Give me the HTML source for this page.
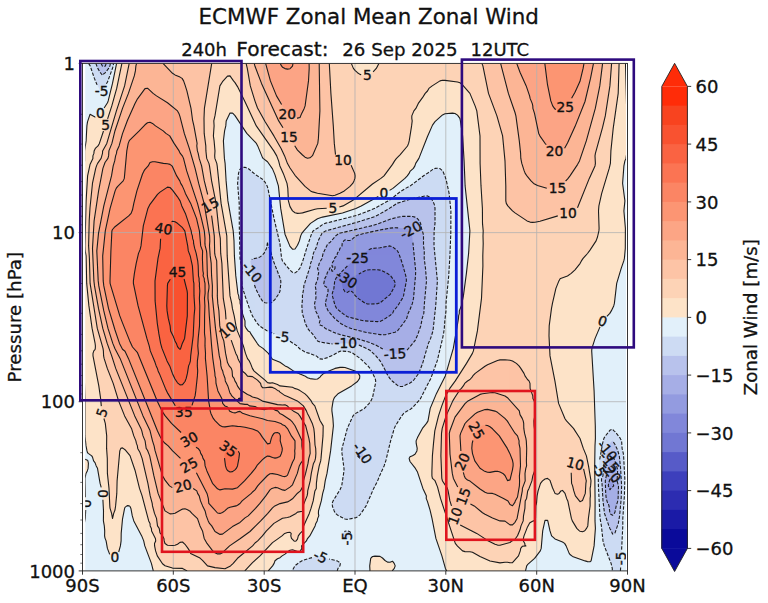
<!DOCTYPE html>
<html lang="en"><head><meta charset="utf-8"><title>ECMWF Zonal Mean Zonal Wind</title>
<style>html,body{margin:0;padding:0;background:#fff}svg{display:block}</style></head>
<body>
<svg width="768" height="603" viewBox="0 0 768 603" font-family="DejaVu Sans, Liberation Sans, sans-serif">
<rect width="768" height="603" fill="#fff"/>
<defs><clipPath id="ax"><rect x="82.5" y="63.4" width="545" height="507.5"/></clipPath></defs>
<g clip-path="url(#ax)">
<rect x="82.5" y="63.4" width="545" height="507.5" fill="#e2f0fa"/>
<path fill="#fde3c8" d="M116.6 63.4l508.9 0 1.2 47.5 0 42.5 -0.7 5 -1.1 2.5 -1 5 -1.3 17.5 2.3 17.5 -1 10 1.5 17.5 -0.1 20 -0.9 10 -0.6 2.5 -2.6 7.5 -4.5 15 -2.3 20 -0.7 2.5 -1.2 2.8 -2.5 4.4 -7.4 7.8 -1.2 2.5 -6.3 15 -3.2 10 -0.2 2.5 2.4 40 1.2 35 0.1 12.5 -0.4 7.5 -0.3 20 0.4 35 -0.1 20 0.4 7.5 -1.3 17.5 -3 15 -1.1 0.9 -2.5-0.2 -2.4-0.7 -12.6-4.5 -2.5-1.9 -0.8-1.1 -3.1-7.5 -1.5-2.5 -2.1-1.4 -7.5-3.1 -3.4-3 -1.6-5 -2.2-10 -0.3-0.5 -2.5 0 -2.3 10.5 -1.5 17.5 -0.9 2.5 -5.7 7.5 -7.1 6.3 -0.8 1.2 -1.2 5 -78.8 0 -1.3-2.5 -3.5-12.5 -6-17.5 -3.9-20 -2-8.5 -2.5-8.3 -1.3-3.2 0.2-2.5 -3.5-7.5 -1.5-5 -4.5-12.5 -1.9-3.1 -5.3-6.9 -0.6-2.5 0.9-1.6 2.5-1.1 2.5-1.5 1.9-3.3 0.3-2.5 -1-5 -0.1-2.5 1.4-3.3 4.9-9.2 4.1-5 1.5-2.5 2.2-12.5 5.2-12.5 8.7-17.5 2-5 7.2-25 5.2-30 0.1-2.5 0.7-2.5 0-2.5 2-5 1.7-7.5 3.4-25 2.2-20 1.3-22.5 -4.8-45 -1-25 -1.5-25 -2.2-15 -0.5-2.5 -2.4-3.3 -2.5-1.6 -2.5-0.4 -7.5 0.7 -2.5 1.1 -6.7 6 -2.3 2.5 -1.4 2.5 -4.6 10.6 -8.6 21.9 -3.2 5 -0.8 2.5 -1.5 2.5 -3.4 3 -0.9 2 -1.8 2.5 -5.2 5 -9.6 7.8 -35 19.1 -15 5.2 -20 4.1 -5 1.6 -7 4.7 -6.7 7.5 -2 2.5 -1.1 2.5 -1.3 5 -1.9 4.4 -2.5 3.7 -2.5 0.2 -2.5-2.8 -5-12.2 -4.3-25.8 -2.3-22.5 -0.9-3.5 -4-11.5 -1.3-2.5 -4.7-6.7 -4.4-3.3 -0.6-0.8 -4.8-11.7 -1.3-2.5 -9.6-10 -11.8-17.8 -2.5-2.5 -2.5 0 -0.2 0.3 -3.6 7.5 -0.4 5 -0.8 2.7 -1.1 7.3 -0.5 5 1 17.5 0.7 5 1 17.5 2.1 22.5 5.2 30 0.6 7.5 0.4 15 1.4 20 1.5 12.5 0.6 5 0.8 2.5 0.3 2.5 1 2.1 0.1 2.9 0.7 2.5 0.3 2.5 1.2 2.5 0.2 2.7 2.5 7.3 0 5.1 1.2 2.4 1.9 2.5 1.9 1.1 0.6 1.4 6.9 10.4 1.7 2.1 3.8 2.5 5.4 5 4.1 5.8 7.5 3.1 5.1 3.6 2.4 1.1 5.9 3.9 6.6 3.2 4.8 1.8 2.7 1.9 2.5 0.8 5 0.6 2.5-0.2 2.5-1.9 0.9-1.2 2.8-2.5 5.2-2.5 6.1-2.5 5-1 2.5-0.1 2.5 0.2 10.1 3.4 3.2 2.5 1.5 2.5 -0.2 2.5 -2.1 3.1 -5 3.8 -10 5.6 -5 3.2 -2.5 2.7 -1 1.6 -0.9 2.5 -1.2 7.5 0 2.5 1 7.5 0.5 7.5 -2.5 22.5 -3.9 25 -1.8 7.5 -1.1 7.5 -1.4 5 -1.4 7.5 -2.8 10 -0.1 2.5 0.4 2.5 -1.1 2.5 -0.5 2.5 -1.4 2.5 -0.7 2.5 -1.5 2.5 -0.9 2.5 -2.9 5 -2.3 2.7 -1.1 2.3 -4.8 5 0.3 2.5 -1.9 2.9 -2.5 0.3 -5-1.8 -2.5 0.4 -1.2 0.7 -3.8 3.2 -2.9 1.8 -2.1 1.8 -2.5 1.1 -2.5 2 -0.9 2.6 -1.5 2.5 -4.3 5 -115 0 -1.9-7.5 -6.6-17.5 -1.1-5 -2-5 -7.9-15 -1.5-5 -1.4-7.5 -0.9-2 -0.8-0.5 -1.7-0.3 -2.5 1.8 -0.4 1 -1.7 7.5 -1.7 17.5 -0.1 7.5 -0.7 5 -1.2 5 -1.7 3.4 -2.5 2.8 -2.5-0.1 -1.6-1.1 -0.9-1 -2.6-6.5 -1.3-7.5 -1.1-2.8 -0.4-2.2 0.1-5 -0.4-5 -0.9-5 0.1-10 -1.2-20 -1.7-5 -2.5-15 -0.6-2.6 -1.3-2.4 -1.2-3.3 -1.4-1.7 -1.1-3.8 -0.8-1.2 -3.5-2.5 -0.7-0.8 -1.1-4.2 -1.4-12.5 0-35 -0.8-27.5 -0.1-35 -0.7-37.5 -0.4-42.5 -0.5-5.5 0-35.2 1.2-49.3 1-10 -0.1-7.5 1.2-7.5 0.9-15 0.8-6.6 2.5-7.5 5 2.7 2.5-1.2 2.5-1.9 2.5-3.2 5-7.9 1.4-4.4 3.6-15zM82.5 460.9l0-1 2.5-0.7 2.5 1.1 0.4 0.6 0.5 2.5 -0.3 5 -0.8 2.5 -1.3 2.5 -1 5 0.8 27.5 -0.2 10 -0.6 5 -0.7 2.5 -0.1 7.5 -1.7 4zM627.5 503.4l0 23.8 -0.7-8.8zM370.7 558.4l1.8-1.9 2.5-0.4 5 0.3 2.5 1.6 2.5 2.5 2.5 1.6 2.5 0.2 2.5-1.1 1.7 2.2 0.8 1.7 0.2 0.8 -0.2 1 -0.7 1.5 -2.1 2.5 -22.2 0 -0.3-5z"/>
<path fill="#fdd3b6" d="M121.9 63.4l229.4 0 2.1 5 4.1 4.3 2.5 1.7 2.5 0.7 2.5 0.1 2.5-0.3 2.5-0.9 2.5-1.6 3.8-4 2.6-5 240.2 0 -0.9 30 -5 35 -2.3 22.5 -0.5 12.5 -1.2 5 -7.5 25 -2.8 12.5 -0.4 5 0.6 17.5 -0.2 2.5 -1.4 6.1 -1.4 3.9 -6.1 9.2 -2.5 3.4 -4.4 4.9 -1.7 2.5 -1.4 2.7 -5 6.2 -3.8 3.6 -3.7 2.6 -6.9 2.4 -0.6 0.5 -1.1 2 -3 7.5 -3.4 14.8 -1 5.2 -2.3 17.5 -0.2 10 1 20 4.9 25 3.7 22.5 6.4 15.3 1.5 2.2 7 7.5 6.5 10.1 3.3 9.9 3.1 7.5 2.1 10 2.5 15 -0.4 5 -0.5 2.5 0.3 7.5 -0.3 2.5 0 7.5 -1.7 12.5 -0.6 7.5 -0.3 0.9 -2.5 3.7 -2.5 1.3 -2.5-0.5 -0.6-0.4 -2.6-2.5 -4.5-7.5 -0.9-2.5 -3.6-17.5 -1.2-2.5 -1.6-5.1 -2.5-2.9 -1.6 0.5 -1.8 2.5 -1.6 0.8 -2.5-0.8 -2.5-5.7 -2.5-7.3 -2.5-2 -2.5 0.6 -2.5 1.9 -2 2.5 -2.4 7.5 -1 5 -0.6 7.5 -0.7 2.5 -0.3 12.5 -0.5 1.1 -1.3 1.4 -1.2 0.3 -2.5 1.5 -0.6 0.7 -1.9 3.5 -3.5 9 -0.6 2.5 0 2.5 1.4 2.5 0.2 1.7 0.9 0.8 -3.4 0.3 -1.8 2.2 -0.4 2.5 -1.8 5 -6 6.7 -2.5 0.2 -2.5-0.6 -2.5 0.1 -5 0.6 -10-1.9 -10-4.4 -7.5-4.3 -2.5-0.6 -5-0.1 -2.5-0.7 -5-4.8 -2.2-2.7 -14.8-45 -3-11.5 -2.5-6.2 -2.6-2.3 -0.5-2.5 0-5 0.5-15 1.1-12.5 1.3-12.5 3.7-15 3.3-10 3.8-10 4.2-7.5 5.5-7.5 11.2-17.5 5.9-10 1-2.5 0.7-2.5 3.3-17.5 4.1-32.5 1.4-32.5 -0.1-10 0.4-12.5 -0.2-7.5 0.2-5 -0.7-7.5 -0.1-15 -1.4-22.5 -0.9-22.5 -0.1-27.5 -3.2-25 -1.7-5 -5.1-12.3 -2.5-3.3 -5-5.5 -2.5-2 -2.5-0.8 -15-1.7 -2.5 0.6 -7.8 5 -3.3 2.5 -1.4 2.6 -2.3 2.4 -2.7 4.3 -4.2 5.7 -2.4 5 -2 2.5 -2.1 5 0 2.5 0.4 2.5 -0.6 5 -2.4 15 -0.6 2.5 -1 2.5 -12.6 14.4 -2.5 4.1 -8.5 11.5 -3.1 2.5 -8.4 5.6 -17.5 14.7 -3.1 2.2 -9.4 5.2 -5 1.1 -15 1.4 -5 0.1 -2.5 0.5 -12.5 3.7 -5 0.5 -2.5-0.6 -2.5-1.9 -2.5-4.3 -1.6-5.7 -0.6-12.5 -0.8-5 -3.7-10 -3.4-7.5 -1.3-5 -1.9-5 -2.9-5 -17.5-25 -11.3-24.2 -7.5-15.1 -2.5-4 -1.5-1.7 -3.5-5 -2.5 0.2 -5 5.6 -2.6 4.2 -4.9 29.8 -1.2 5.2 0.3 5 -0.7 10 1.2 10 0.4 5 -0.3 5 0.2 2.5 1.9 5 0.4 2.5 3.9 37.5 5.7 32.5 0.4 20 2.8 40 1.7 7.5 0.7 5 1.8 7.5 1.8 10 1.3 5 4.2 10 1.9 5 2.1 7.5 2 5.2 1.8 2.3 1.2 2.5 1.9 5 1.5 2.5 11.1 9.3 2.5 2.4 2.5 0.5 2.5-0.3 5 1.8 2.5 1.3 12.5 1.3 2 1.2 3 0.9 2.5 1.3 5 3.3 2.1 2 4.1 5 1.3 2.5 2.3 2.5 5.2 14.6 3.2 5.4 0 7.5 -2.2 25 -0.3 2.5 -1.5 5 -1.9 10 -0.9 7.5 -0.1 5 -1.4 2.5 -1.7 10 -3.9 12.5 -5.7 12.5 -0.9 5 -2.6 2.5 -1.8 2.5 -0.8 3.3 -1.4 1.7 -1.1 0.4 -1-0.4 -2.5-2.5 -0.7-2.5 0.4-2.5 -1.2-1 -2.5 0.1 -2.8 0.9 -2.7 2.5 -9.5 6.7 -12.5 13.3 -7.5 6.8 -7.7 8.2 -57.7 0 -4.6-2.5 -7.5 0 -5-1 -5-1.7 -2.5-2 -5-7.5 -1.2-2.8 -1.7-7.5 -0.1-2.5 1.2-2.5 -0.3-2.5 -3.8-7.5 -0.2-2.5 -1.2-2.5 -0.2-2.5 -1.3-2.5 -6.6-25 -2.6-7.5 -4.5-18.2 -5-14.6 -5-5.9 -2.5-1.8 -1.7 0.5 -1 2.5 -2.7 30 -0.3 12.5 -1.2 12.5 -0.6 4.1 -1.3 3.4 -1.2 5.1 -0.9-5.1 -1.6-5.3 -0.2-2.2 -0.8-17.5 -1.5-13.8 -0.2-16.2 -0.7-10 0.1-12.5 -1.1-10 -0.9-5 -2.6-7.5 -0.5-2.5 -1-12.5 -1.8-12.5 -5.8-30 0-2.5 0.8-2.5 1.2-1.2 0.3-1.3 0.1-2.5 -0.4-3.1 -2.9-14.4 -2.6-17.5 -2.6-25 -0.8-30 -1.1-7.5 0.4-25 0.7-22.5 1.4-24 1.6-8.5 1.4-5 2.4-5 0-2.5 1-2.5 0.2-2.5 1.2-2.5 2.7-2.5 2-4 11.8-36 6.2-22.5z"/>
<path fill="#fdc4a6" d="M129.2 63.4l82.5 0 -7.3 45 -0.4 10 0.2 15 1.6 12.5 0.1 5 0.8 7.5 2.2 5 0.6 2.5 2.1 15 4.5 22.5 2.9 27.5 1.3 7.5 0.4 15 1.2 10 1.4 35 2.1 12.5 1 12.5 1.4 7.5 8 22.5 1.4 2.5 0.7 2.5 1.2 2.5 1.4 2.5 0.2 2.5 1.8 5.3 2.5 2 2.5 2.9 5 0.5 5 3.5 3.1 3.3 0.6 2.5 1.3 1.7 2.5 0.1 5-0.6 2.5 0.3 2.3 1 2.7 2 1.5 0.5 1 1.2 5 3.5 2.5 0.8 9.8 4.5 6.1 5 1.6 2.5 1.4 2.5 1 2.5 1.4 2.5 3.5 7.5 1.5 5 0.8 7.5 0.5 10 0.6 2.5 0.2 5 -0.4 5 -0.7 2.5 -1.3 2.5 -0.6 2.5 -1.6 7.5 -1.1 7.5 -2.5 10 -0.1 2.5 -0.5 2.5 -4.1 10 -0.5 5.3 -5 0.9 -1.5 1.3 -6 3.3 -2.5 0.8 -5 0.8 -8.6 5.1 -7.5 7.5 -4 5 -4.7 5 -2.7 2.1 -2.4 2.9 -15.1 12.4 -4.3 5.1 -2.7 2.5 -5.5 2.8 -10-1.1 -7.5-1.7 -5-5.6 -2.5-2.2 -9.4-4.7 -1-2.5 -1.6-2.5 -3-4.1 -2.5-2.3 -2.5 0.4 -2.5 1.8 -2.5 1.1 -2.5 0.2 -5-0.3 -2.5-1.7 -0.8-2.6 -0.3-2.5 -1.3-2.5 -2.3-2.5 -1.1-5 -1.7-2.5 -1-7.5 -2-5 -2-7.5 -0.3-2.5 -2-7.5 -2.3-12.5 -5.8-25 -2.1-5.8 -2.3-4.2 -0.3-2.5 -1-2.5 -0.5-2.5 -2.1-5 -2.3-7.5 -6.9-12.5 -6-15 -5.4-17.5 -6.8-17.5 -2.8-10 -0.2-5 -0.4-2.5 -5.7-20 -7.2-45 -0.8-27.5 -0.7-7.5 0.7-32.5 2.9-30 0.7-5 3.6-15 1.1-2.5 3.5-5 1.4-5 0.1-2.5 4.2-7.5 9.6-32.5 8.2-25zM246.1 63.4l83.2 0 1.6 30 2.4 32.5 1 17.5 1.3 12.5 1.1 2.5 0.8 0.8 2.5 0.8 5 0.1 2.5 0.2 0.9 0.6 1.6 2 2.5 5 2.2 5.5 0.4 2.5 -0.2 2.5 -2.2 5 -2.7 3 -5 4 -2.5 1.6 -7.5 3.2 -2.5 0.5 -15-2.5 -5-1.3 -2.5-1.3 -5-4.2 -10-11.1 -2.5-3.3 -5-8.4 -2.9-7.7 -3.5-7.5 -7.2-12.5 -8.9-14.4 -7.5-13.5 -2.5-6.9 -4.7-15.2 -3-17.5zM481.9 63.4l129.7 0 -1.7 22.5 -4.6 30 -2.8 11.8 -7.1 25.7 -0.4 2.5 0.4 7.5 -0.4 2.5 -5.7 12.5 -10.9 27.5 -0.9 1.9 -2.5 1.9 -7.5 3.1 -22.5 7.2 -7.5 1.8 -5 0.6 -2.5-0.3 -2.5-0.9 -11.8-7.8 -3.2-2.5 -5-5.4 -1.2-2.1 -0.5-2.5 0-15 -0.8-25 -2.4-25 -5.7-20 -8.4-22.5 -5.6-27.5zM496.5 360.9l3.5-1 2.5-0.2 7.5 0.5 2.5 0.8 2.5 1.4 4 3.5 3.5 5 1.5 2.5 1 2.5 2.5 3.6 1.5 1.4 1 2.4 0.1 5.1 2.7 7.5 0.1 2.5 1.3 2.5 0.7 2.5 -0.1 12.5 -0.9 5 0.2 5 0.7 5 0.2 7.5 -0.5 20 0.9 5 0.1 2.5 -0.9 5 -1.8 5 -0.9 5 -2.9 7.5 -1.3 2.5 -1.1 7.5 -1.4 2.5 -0.3 7.5 -1.4 7.5 -0.3 5 -2.2 5 -1 3.9 -2.5 6 -2.5 3.5 -3.1 1.6 -1.9 1.6 -10 2.7 -2.5-0.1 -2.5-0.9 -7.5-3.8 -10.8-7 -16.7-8.5 -2.5-2.3 -7.5-21.4 -1.9-10.3 -0.7-2.5 -4.9-7.4 -0.7-2.6 -0.9-22.5 0.6-22.5 0.7-5 3.9-12.5 6.7-15 7.2-11.3 2.5-2.5 2.2-3.7 2.8-2.4 2.5-1.5 2.5-2.8 0.3-0.8 2.4-2.5 9.8-7.2 2.5-1.5zM577.2 463.4l2.8 1.1 2.5 2.1 1 1.8 2.8 12.5 -1.3 13.7 -2.5 5.9 -2.5 1.2 -4.6-5.8 -1.6-5 -1.2-5 -1-2.5 -0.3-2.5 -0.2-5 0.4-7.5 1-2.7 2.5-2.1z"/>
<path fill="#fcb595" d="M136.6 63.4l26.4 0 9.5 9.9 2.5 1.6 5 2.2 2.1 1.3 1.5 2.5 2.6 7.5 4.8 20 1.5 11.4 1.4 6.1 3.2 17.5 -0.3 2.5 0.6 5 0.8 2.5 1 5 2.4 7.5 2.7 15 5.1 20 1 5 3.9 30 0.4 17.5 0.5 2.5 1.5 5 0.7 30 -0.1 5 0.5 7.5 1.1 7.5 0.9 15 2.1 10 1.9 5 1.8 12.5 1.9 9.2 1.7 3.3 2.1 2.5 0.8 2.5 0.4 5.4 1.6 2.1 0.8 2.5 1.6 2.5 0.9 2.5 2.6 3.7 1.3 1.3 1.2 0.4 5 3.2 2.5 1 2.5 1.5 5 1.3 5 2.8 15 3.5 5 0.4 2.5-0.2 2.5 1.2 2.1 2.4 3.6 2.5 4.6 2.5 2 2.5 5.9 10 3.2 12.5 0.9 5 0.4 10 -1.4 5 -0.8 5 -2.4 10 -2.9 10 0.1 2.5 -0.3 1 -2.1 4 -2.9 2.3 -5 5.6 -2.5 1.7 -2.5 1.4 -7.5 1.7 -5.2 2.3 -2.3 1.9 -4.7 5.6 -7.1 7.5 -10.7 10.6 -10 7.3 -10.4 7.1 -7.1 6.8 -2.5 1.2 -2.5 0 -2.5-1.1 -2.5-2.2 -5.5-7.2 -2.8-5 -1.7-7.5 -2.5-5 -2.5-7.3 -5.6-5.2 -2.2-2.5 -2.2-1.2 -2.5-1 -2.5 0.4 -7.5 4.2 -2.5 0.5 -2.5 0.1 -5-3 -6.9-17.5 -4.2-17.5 -4.2-20 -2.2-5.6 -1.3-1.9 -1.1-7.5 -2.1-5 -1.2-5 -0.9-2.5 -6.2-12.5 -19-47.5 -4-12.5 -4.5-12.5 -3.7-12.5 -1.2-5 -3.8-17.5 -4-22.5 -0.6-5 -1.3-30 0.1-5 1.7-27.5 5.1-32.5 4.1-20 1.4-3.4 2.9-4.1 0.7-2.5 0.3-5 3-7.5 3.1-12.7 7.5-22.3 5.9-15 5.9-17.5 1.1-5 0.5-5zM254.2 63.4l65 0 0.7 47.5 -1.7 30 -0.7 3.5 -5 11.3 -2.5 2.1 -2.5 0.5 -2.5-1.1 -7.5-7.1 -8.9-14.2 -8.5-12.5 -19.7-42.5 -5.4-14.6zM500.6 63.4l102 0 -2.8 22.5 -4.8 24 -7.9 28.5 -6.6 20 -3 6.2 -9.4 13.8 -8.1 8 -2.5 1.7 -2.5 0.4 -7.5-0.1 -10-2.9 -2.5-1.2 -2.5-1.8 -2.5-2.7 -5-6.8 -3.2-9.6 -1-5 -0.2-5 -1.3-12.5 -3.4-25 -0.9-3.4 -6.6-19.1zM484.9 393.4l7.6-0.8 2.5 0.2 10 3.2 2.5 1.7 11.8 13.2 0.7 3.7 2.5 4.4 1.2 4.4 0.1 5 0.8 5 1.3 5 0.7 7.5 -0.2 15 0.2 5 -0.8 2.5 -0.8 5.1 0.2 7.4 -2.8 7.5 -0.1 2.5 -5.2 27.5 -2.1 3.9 -2.5 2.6 -2.5 0 -5-3.8 -5-0.2 -7.5-3 -5-2.4 -5-2.8 -8.3-6.8 -6.7-3.7 -2.5-2.9 -6.6-10.9 -5-10 -0.7-2.5 -2.6-20 -0.9-20 0.1-2.5 0.6-2.5 4.5-12.5 1.3-2.5 9.3-12.2 2.5-2.5 12.5-6.8z"/>
<path fill="#fca585" d="M265.6 63.4l43.5 0 0.1 5 -0.7 12.5 -3.4 25 -0.9 2.5 -2.5 5 -1.7 4.1 -2.5 0.6 -7.5-2.7 -2.5-1.6 -2.5-3.7 -7.5-12.2 -2.5-5.5 -5-12.7zM516.7 63.4l76.8 0 -3 15 -4.7 20 -1.5 5 -9.3 23.2 -7.5 16.5 -2.5 4.8 -2.5 1.6 -5 1.5 -2.5 0.4 -2.5-0.9 -7.5-7.2 -5.1-7.4 -1.2-2.5 -4.2-20 -1.6-5 -0.1-2.5 -0.6-2.5 -2.1-5 -0.5-2.5 -3.4-10 -6.2-13.6zM146 88.4l1.5-0.2 5.6 5.2 3.4 2.5 11 6.9 10 8.1 1.4 2.5 1.1 3.3 4.3 16.7 5 15 5.8 20 3.6 15 5.4 20 5.5 32.5 0.2 5 -0.3 5 0.7 10 1 7.5 0.4 12.5 0.8 10 -0.1 10 3.2 32.5 3.8 27.5 1.2 5 0.4 5 0.6 2.5 1.2 2.5 0.5 2.5 1.8 4.8 0.3 2.7 2.5 5 2.2 7.3 0.5 0.2 1.3 2.5 8.2 7.7 5 0.8 2.5-0.1 1.9 1.6 5.6 0.6 3.6 1.9 3.9 1 2.5 0.2 5-1.7 2.5 0.4 2.5 1.8 2.7 0.8 2.1 2.5 2.7 1.4 7.5 4.9 2.5 2.5 2.5 3.6 1.3 2.6 4.7 10 0.9 2.5 0 5 0.7 5 0 10 -2 2.5 -1.3 2.5 -2 7.5 -4.8 11.4 -2.5 2.3 -5 3.3 -2.5-0.5 -5-2.2 -2.5-0.3 -3.1 1 -1.9 1.5 -4.2 6 -5.9 7.5 -4.4 5 -7.3 7.5 -3.2 2 -5 4.5 -7.5 4.2 -10 7.5 -2.5 0.3 -5-2.9 -3.3-5.6 -2.2-2.5 -1.3-2.5 -1.9-5 -1.2-5 -2.5-5 -2.1-5 -1.3-5 -1.6-2.5 -0.8-2.5 -4.3-2.8 -7.5-2 -2.5-0.1 -7.5 1.6 -2.5 0.1 -3-1.8 -4.5-5.8 -2.4-4.2 -7.6-25.5 -0.9-4.5 -1.6-5.1 -2.5-10.2 -7-14.7 -22.9-57.5 -5.1-9.7 -2.5-6.2 -5-16.2 -4.2-17.9 -4.5-22.5 -0.6-5 -1.4-30 1.7-17.5 5.3-27.5 7.7-30 1.7-10 1.5-5 0.9-5 0.9-2.5 0.3-2.5 2.3-5 3.4-12.3 5-13.4 2.5-5.8 5-10.9 2.5-4.7 7.5-10.2zM238.5 398.4l1.5-0.5 0.8 0.5 -0.8 0.8zM480.9 410.9l4.1-1.3 2.5-0.2 7.5 1.7 2.5 1.2 7.4 6.1 2.3 2.5 7.8 12.3 2.5 2.7 1 2.5 0.6 2.5 -0.1 2.5 1 5 0.3 7.5 0.2 10 -1.1 10 0.2 5 -0.2 5 -1.9 11.1 -2.2 3.9 -0.3 1.2 -2.5 3.6 -2.5-1.1 -2-3.7 -0.5-0.4 -10-5.1 -2.5-1.2 -2.5-0.8 -5-0.2 -2.5-0.9 -7.5-5.1 -7.5-6.1 -2.5-1.1 -2-1.6 -1.2-2.5 -1.2-5 -2.2-20 -0.9-15 0.6-2.5 4.5-10 9.9-9.5 2.5-1.7z"/>
<path fill="#fc9573" d="M280.3 63.4l12.7 0 -0.5 2.7 -2.2 2.3 -0.3 0.3 -2.5 0.4 -2.5-0.5 -2.5-1.4 -1-1.3zM544.8 63.4l39.2 0 -0.3 2.5 -3.6 15 -5.1 11.4 -2.5 4.7 -7.5 10.2 -2.5 2.3 -2.5 1 -2.5 0 -2.5-1.4 -2.5-3.5 -1.7-4.7 -3.3-16.2zM146.7 123.4l0.8-0.6 2.5-0.5 2.5 1.1 3 2.5 7.7 5 2.7 2.5 3.8 2.5 4.4 7.5 5 7.5 1.2 2.5 2.2 2.7 1.8 4.8 2.4 10 11.5 35 6.1 25 0.7 7.5 -0.1 5 0.3 2.5 1.3 5 0.9 25 1.6 10 -0.1 2.5 -0.8 5 -0.1 5 0.6 5 0.7 12.5 2.3 30 1.2 12.5 2.1 15 0.1 2.5 0.8 2.5 0.2 5 1.5 6 2.8 6.5 1.5 2.5 0.9 5 2.3 2.7 2.5 1 1.1 1.3 0.8 2.5 3.1 1.6 2.5 0.4 2.5-1 2.5-0.5 2.5 1.8 7.5 2.6 12.5 3 5 1.7 7.5 1 5.9 1.9 1.6 1.4 2.5 1 2.5 2.8 3.9 7.3 3.6 5 0 7.5 -0.3 2.5 0.2 2.5 -0.4 5 -2 3.8 -5 12.9 -0.9 0.8 -1.6 0.7 -2.5-0.4 -5-1.7 -5-0.9 -2.5 0.1 -2.5 1.8 -7.6 7.9 -2.2 2.5 -2.7 4 -2.5 2.1 -1.2 1.4 -9.2 7.5 -2.1 2.6 -2.5 1.8 -1.4 0.6 -6.1 1.4 -2.5 1 -2.7 2.6 -2.3 1.6 -2.5 0.9 -2.5-0.4 -8.7-9.6 -0.5-5 -1.3-5 -6.5-12.5 -3-6.4 -2.3-3.6 -7.7-7.1 -5-3.4 -5-4.6 -7.3-7.4 -2-2.5 -3.2-2.6 -2.3-2.4 -2.7-4.7 -2.5-5.2 -30.1-75.1 -2.4-4.6 -2.5-2 -0.6-0.9 -2.4-5 -4.5-13.4 -6.5-21.6 -4.7-22.5 -0.6-5 -0.5-22.5 0.1-5 2.5-22.5 4.8-22.5 4.9-17.1 1.2-2.9 1.3-1.8 5.7-5.7 1.1-2.5 2.5-27.5 1.4-7.5 1-2.5 0.8-1.1zM481.6 425.9l0.9-0.4 2.5-0.4 2.5 0.4 2.5 1.3 2.5 2 7.5 8 8.7 14.1 3.8 9.4 0.6 3.1 0 2.5 -0.6 3.7 -2.5 10.3 -2.5 0.7 -2.5-5.1 -2.1-2.1 -2.9-1.3 -2.5-0.8 -2.5 0.1 -5 1 -2.5-0.2 -3.5-1.3 -4-2.7 -5.2-7.3 -1-2.5 -1.9-7.5 -0.1-2.5 0.4-5 1.4-5 2.8-7.5 1.8-2.5z"/>
<path fill="#fb8564" d="M149.4 163.4l0.6-0.8 2.5-0.9 2.5 0.1 8.4 1.6 4.1 0.4 2.5 0.6 1.9 1.5 0.6 0.8 4.2 9.2 3.1 5 0.9 2.5 1.6 2.5 2.2 5 0.9 2.5 4.6 8.5 6.5 16.5 2.9 12.5 1.3 15 1.9 5 -0.2 7.5 0.5 12.5 0.5 2.5 -0.3 2.5 1.1 2.5 0.2 2.5 0.6 2.5 0.1 10 -0.6 5 0.4 7.5 -0.3 10 -0.1 17.5 0.6 5 -0.1 7.5 0.5 7.5 -0.1 5 1.7 17.5 1.5 25 1.4 7.5 0.2 2.5 1.7 5 1.4 2.5 1.7 2.3 5 4.9 2.5 1.1 2.5 0.2 7.5-1.2 5 0.7 2.5 0.1 5 0.7 7.5 1.8 5 1.9 2.4 2.5 2.6 4 5 6.5 2.5-0.5 1.3-5 1-2.5 1.6-2.5 1.1-0.6 2.5-0.3 1.9 0.9 1 2.5 -0.2 5 2.1 7.5 -0.2 2.5 -0.7 2.5 -1.4 3.1 -2.5 1.1 -2.5 0.5 -2.5-0.6 -2.5-1.1 -2.5-0.3 -2.5 1.4 -6.3 5.9 -2 2.5 -1.4 2.5 -10.8 12.5 -7 6.8 -1.8 0.7 -3.2 0.7 -7.5-0.3 -5 1.1 -2.5-1.1 -4.9-5.4 -2.6-5.4 -3.1-7.1 -1.8-5 -0.5-5 -1.6-2.5 -0.7-2.5 -1.6-2.5 -0.7-2.5 -1.9-2.5 -4.1-2.5 -3.1-2.5 -2.1-5 -8.8-6.8 -7.5-7.1 -3.3-3.6 -5.8-7.5 -7.4-15 -18.5-45.7 -5-5.7 -2.8-6.1 -9.7-24.4 -9.2-30.6 -0.7-2.5 -0.1-2.5 0.9-30 1-20 0.6-1.4 2.5-2.8 13.7-10.8 2.4-2.5 1.4-3.6 3.7-16.4 6.3-19.4 1.5-3.1 1-1.5 3.2-3.5z"/>
<path fill="#fb7453" d="M165.3 188.4l2.2-1.3 2.5 0.4 2.5 2.6 5 6.7 2.5 3.9 1.8 5.2 3.6 7.5 4.3 12.5 0.5 2.5 1 2.5 0.3 2.5 0.9 2.5 0.2 2.5 0.9 2.5 0.1 2.5 1.1 5 1.5 5 1.3 6.5 0.7 6 0.3 10 0.6 2.5 0 2.5 0.4 2.5 -0.1 2.5 0.4 5 -0.4 7.5 0.4 7.5 -0.3 20 -1.3 12.5 -0.4 7.5 0.6 7.5 -1 7.5 -0.1 5 0.4 5 -0.3 5 -2.3 20 -2.6 8.5 -0.7 1.5 -1.8 2.1 -5 3.9 -2.5-0.3 -5-3.4 -2.5-2.7 -7.2-12.1 -2.4-5 -6.1-15 -1.2-2.5 -0.7-2.5 -1.2-2.5 -1.2-3.6 -5-12.3 -0.8-4.1 -2.3-7.5 -8.8-32.5 -4.7-22.5 0-2.5 1-7.5 1.8-10 2.3-10 1.5-3.5 1-4 2.3-20 4.6-17.5 2.1-4.1 7.5-9.9 2.5-2.3zM229.3 448.4l1.5 0 4.2 2 2.5 0.2 0.5 0.3 1.5 2.5 -0.6 5 -1.4 7.5 -1.2 2.5 -1.3 1.5 -2.5 1.7 -2.5 0.4 -2.5-1.4 -1.2-2.2 -1.3-5 -0.6-7.5 0.3-2.5 1.3-2.5 1.5-1.7z"/>
<path fill="#fa6342" d="M169.3 223.4l0.7-0.9 2.5-1.2 2.5 0.5 2.5 1.5 5 4.4 2.3 3.2 2.9 15 0.6 5 1.9 5 2.2 10 1 15 0.5 2.5 0.1 12.5 0.8 12.5 -0.7 7.5 -0.9 20 -2.5 20 -0.3 5 -0.7 2.5 -1.1 2.5 -1.2 7.5 -1.2 5 -0.9 2.5 -2.8 3.7 -2.5 0.3 -2.5-2.1 -2.5-3.8 -2.6-5.6 -2.7-7.5 -2.7-5 -5.8-15 -3.6-20 -2.5-25 -0.2-17.5 0.3-5 3.2-22.5 1.7-7.5 0.8-12.5 1.3-5 1.3-2.5 1.5-1.6z"/>
<path fill="#f95230" d="M174.7 273.4l2.8-1.9 2.5 0.7 2.5 2.8 2.5 6.8 2.1 9.1 0.3 2.5 -0.1 22.5 -2.3 20.8 -0.4 1.7 -2.3 5 -1.6 5 -0.7 0.9 -1.1-0.9 -1.4-1.8 -1.1-3.2 -1.4-2.5 -1.9-5 -2.5-5 -0.5-5 -1.8-7.5 -1.5-10 0.6-22.5 0.3-2.5 2.3-3.9z"/>
<path fill="#cddbf3" d="M88.6 63.4l24.9 0 -0.3 2.5 -0.7 2.4 -5 13.7 -2.5 4.7 -1.5 1.7 -1 2.4 -2.5 0.5 -0.9-2.9 -1.6-2.8 -2.5-5.6 -4.8-14.1zM240.9 168.4l1.6-1 2.5-0.1 3.1 1.1 6.9 5.9 7.5 5 2.5 2.8 2.1 3.8 0.8 2.5 6.1 30 5.9 25 1.7 15 0.9 2.6 7.5 9.1 2.5 2.2 2.5 0.6 2.5-1.7 2.5-3.2 2.5-6.1 4.1-13.5 5.9-16.5 0.7-1 1.8-1.4 2.5-1.3 5-3.6 2.5-1.2 2.5-0.7 30-7.5 17.5-6.9 15-8.5 10-7.9 5-3.2 5.3-2.8 14.7-11.2 2.5-1.4 5-3.7 2.5-1.2 2.5-0.2 2.5 0.4 2.5 2.1 3.3 7.7 3.3 15 1.6 15 0.2 20 -0.8 25 -1.6 25 -2.5 25 0 7.5 -1.2 10 -0.8 10 -0.9 5 -5.2 22.5 -7.1 20 -10.1 20 -0.7 1.1 -7.5 8.1 -2.5 2 -2.7 1.3 -3.6 2.5 -2 2.5 -6.3 10 -1.1 2.5 -3.7 12.5 -4.8 20 -1.7 5 -4.1 9 -2.4 6 -3.9 7.5 -7.6 17.5 -6.1 8.9 -2.5 2.1 -2.5 1 -7.5 1.5 -2.5-0.4 -7.5-3.9 -2.5-2.3 -2.5-6.3 -0.4-3.1 1-2.5 6.9-11.2 1.7-3.8 2.3-15 0-2.5 -2-15 -0.2-2.5 0.2-2.5 5.3-20 5.7-12.5 2-2.1 9.4-5.4 4.8-5 1.7-2.5 1.6-3.2 3-14.3 0.2-2.5 -0.6-2.5 -3.6-7.5 -1.5-2.5 -2.1-2.5 -7.9-7.6 -7.5-5.3 -2.5-1 -2.5-0.5 -5-0.4 -2.5 0.1 -7.5 4.2 -7.5 3.1 -2.5 0.6 -3.9-0.7 -1.1-1.5 -1.2-1 -6.7-2.5 -4.6-1.2 -1.6-1.3 -3.4-1.9 -3-3.1 -3.6-2.5 -10.9-6.7 -12.5-4.4 -5-2.7 -5-3.3 -2.5-2.7 -5-7.6 -5-13.1 -5-15.1 -0.9-6.9 -0.2-5 0.7-5 0-2.5 -2.1-10 -0.7-32.5 -0.1-22.5 -1.6-20 0.9-10 0.7-2.5 0.8-1.6zM609.6 430.9l0.4-0.7 2.5-1 1.5 1.7 1 0.7 5.4 6.8 1.2 2.5 0.5 7.5 1.2 5 0.3 2.5 1.2 20 -0.3 10 0.1 5 -1.8 27.5 0 7.5 -1.2 22.5 -0.1 7.5 -1.1 15 -8.1 0 0-2.5 -1.2-5 -7.6-20 -2.1-17.5 -1.4-8 -1.7-37 0.7-7.5 0.4-12.5 3.2-17.5 1.3-5 1.5-2.5zM346.7 530.9l0.8-0.1 2.5 0.9 1.1 1.7 -0.3 2.5 -2.4 2.5 -0.9 0.4 -2.5-0.9 -1.7-2 -0.1-2.5 1.8-2.2zM309.2 558.4l8.3-2.1 2.5 0.1 12.5 3.6 5 1 2.5 1.6 0.4 0.8 -0.4 2 -2 3 -0.8 2.5 -45.1 0 2.8-5 2.6-2.3 5-3.1z"/>
<path fill="#b8c2ec" d="M95.8 63.4l14.6 0 -0.5 2.5 -1.3 2.5 -3.6 4.6 -0.8 0.4 -1.7 1.9 -2.5-3.1 -2.2-3.8zM413.3 198.4l11.7-2.4 2.5-0.1 2.5 1.4 2.5 3.1 2.2 5.5 0.3 2.5 0 15 -0.9 7.5 -0.1 15 3.4 35 -1.5 22.5 -2.9 27.5 -2.4 7.5 -2.2 5 -5.9 20.3 -2.5 6.5 -0.5 0.7 -0.8 2.5 -3.7 5.2 -2.5 2.9 -2.5 1.5 -7.5 3.5 -2.5 0 -2.5-1.1 -5-4.1 -2.5-2.6 -2.5-3.8 -4.5-9 -2.9-5 -4.2-5 -5.9-5.6 -9-4.4 -3.5-1.4 -2.5-0.4 -10-0.8 -12.5 0.7 -12.5-1.9 -2.5-1.2 -5-7 -2.9-3 -1.9-2.5 -2.4-5 -1.3-5 -1.7-5 -0.4-7.5 0.6-7.5 -0.1-2.5 1.3-7.5 0.1-2.5 6.2-19.1 0.6-3.4 1.8-5 1-5 1-2.5 1.5-2.5 2.3-7.5 3.7-7.5 0.6-0.6 3.2-1.9 29.3-8.1 20-6.2 12.5-7 10-6.5zM267.4 243.4l0.1-0.9 0.5 3.4 2 3.1 3.4 11.9 6.8 17.5 0.6 2.5 0 2.5 -0.7 7.5 -1 2.5 -4.1 6 -1.3 1.5 -1.2 1.1 -2.5 1.1 -2.5 0 -2.5-0.4 -2.5-1.6 -2.5-3.9 -4.4-8.8 -1.6-5 -3.6-22.5 2.1-2 5-0.9 2.5-1.1 2.5-1.9 1.5-1.6 2.5-5zM611.9 440.9l0.6-0.3 2.5 3.9 2.9 6.4 1.4 5 2 22.5 0.3 10 -1.4 22.5 -1.3 10 -1.4 5.4 -1.1 2.1 -1.4 4.5 -2.5 1.2 -1.1-3.2 -1.4-2.2 -1.1-2.8 -4.4-12.5 -1.5-12.5 -1-17.5 -0.5-2.5 0.1-2.5 1.3-2.5 1.1-12.5 1-5 1.3-5 3.7-10.1zM356.8 453.4l0.7-0.8 2.5-0.6 2.5 1.3 1.4 2.6 -1.4 1.3 -2.5 1.1 -2.5-0.8 -0.9-1.6z"/>
<path fill="#a6aee6" d="M101.1 63.4l5.1 0 -0.8 2.5 -0.4 0.4 -2.5 0zM393.5 218.4l6.5-1.8 12.5-0.1 2.5 0.6 2.2 1.3 2.3 2.5 1.1 2.5 0.9 5 1.6 5 0.4 2.5 0 10 0.8 5 -0.1 7.5 2.3 20 -0.2 5 -1.9 20 -0.6 10 -1.6 5 -1.4 7.5 -3.3 9.3 -2.6 5.7 -8.7 10 -1.2 0.9 -5 2.2 -2.5 0.2 -5-1.4 -7.5-2.9 -10-5.2 -5-2 -12.5-3.9 -20-4.9 -12.2-5.5 -2.8-2.5 -2.5-0.8 -0.8-1.7 0.8-2.7 -2.5-6.3 -1.9-3.5 -0.9-5 -0.1-2.5 1.3-5 0.1-2.5 -0.4-2.5 0.6-2.5 -1-5 1.7-5 0.6-0.9 0.3-1.6 0-2.5 0.8-2.5 -0.1-2.5 -1-2.7 1.1-2.3 0.6-2.5 2.8-5 1.1-5 4.4-9.1 0.9-0.9 1.6-0.9 5.7-6.6 1.8-1.7 2.5-1.2 12.5-2.6 18.5-4.5 4-1.1 12.5-4.6zM612.2 455.9l0.3-0.6 0.3 0.6 2.2 5.2 2.3 7.3 0.3 2.5 -0.5 10 1.4 5 -0.3 2.5 0.1 7.5 -0.8 6 -1.3 4 -1.2 6 -0.7 1.5 -1.8 1.9 -2.6-1.9 -0.1-2.5 -0.8-5 -0.8-2.5 -0.7-0.8 -1.3-4.2 -0.5-5 -0.4-12.5 1.1-5 0.1-5 3.5-10.2z"/>
<path fill="#939be0" d="M388.4 228.4l6.6-0.7 12.5 0.7 2.5 0.5 1.7 2 3.8 37.5 0.2 5 -1.9 22.5 -0.7 5 -1.7 5 -3.3 7.5 -1.4 5 -3.4 5 -6 7.5 -2.3 1.3 -10 2.6 -5-0.2 -12.5-1.9 -17.5-4.4 -5-2.4 -4.4-2.5 -5.6-4.6 -6.9-7.9 -0.6-1.2 -1.6-3.8 -0.6-2.5 2.4-10 0.4-2.5 -0.2-2.5 -0.4-0.6 -3-1.9 -0.7-2.5 1.2-5.3 1.4-2.2 1.1-3.7 1.3-1.3 1.2-3.1 1.4 0.6 0.4 2.5 0.7 0.4 2.5-2.8 0-1.9 -2.5 0.7 -0.5-1.4 0.5-3.6 1.2-1.4 1.3-3.4 1.9-1.6 0.6-3.1 1.8-1.9 0.6-2.5 2.1-2.5 0.5-3.1 1.2-1.9 1.3-1.1 2.5 0.6 2.5 0.1 2.5-1.6 3.4-3 1.6-0.7 17.5-4.2zM610.6 470.9l1.9-0.9 0.5 0.9 -0.5 3.4 -0.9-0.9zM609.3 480.9l0.7-1.9 2.5 0.6 1.2 6.3 -2.7 2.5 -1 1.4 -1.7-3.9 0.3-2.5z"/>
<path fill="#8187da" d="M389.9 245.9l2.6 0.9 5 4.1 1.3 2.5 4.3 12.5 3.2 12.5 0.1 2.5 -0.3 2.5 -2.6 12.5 -1.1 2.5 -4.9 7.8 -3.9 4.7 -1.1 2.6 -5 3.7 -5 3.1 -2.5 1.1 -2.5 0.2 -15-1 -12.5-3 -2.5-0.8 -2.5-1.5 -8.4-6.9 -1.6-3.1 -2.5-8.9 -0.2-3 1.6-5 0.8-7.5 1.2-2.5 6.6-7.5 7.5-7.5 7.5-5.9 10-6.9 2.5-1.5 2.5-0.7 7.5-0.6z"/>
<path fill="#7177d3" d="M364.6 270.9l2.9-0.9 2.5-0.2 7.5 0 2.5 0.3 2.5 0.9 4.8 2.4 2.7 1.8 4.4 5.7 0.9 2.5 -0.5 2.5 -3.9 7.5 -2.2 2.5 -3.7 2.6 -5 4.4 -2.5 0.7 -7.5 0.5 -2.5-0.1 -2.1-0.6 -7.3-5 -2.6-2.5 -3-3.9 -2.5-1.4 -2.5 1.8 -2.5-0.6 -2.5-4.2 -0.7-4.2 0.7-2.7 2.5-1.2 7.5-2.7 5-2.2z"/>
<g stroke="#b0b0b0" stroke-width="0.85" opacity="0.9">
<line x1="173.3" y1="63.4" x2="173.3" y2="570.9"/>
<line x1="264.2" y1="63.4" x2="264.2" y2="570.9"/>
<line x1="355.0" y1="63.4" x2="355.0" y2="570.9"/>
<line x1="445.8" y1="63.4" x2="445.8" y2="570.9"/>
<line x1="536.7" y1="63.4" x2="536.7" y2="570.9"/>
<line x1="82.5" y1="232.6" x2="627.5" y2="232.6"/>
<line x1="82.5" y1="401.7" x2="627.5" y2="401.7"/>
</g>
<g fill="none" stroke="#1c1c1c" stroke-width="1.1" stroke-linejoin="round">
<path stroke-dasharray="3.4 1.6" d="M343.3 289l1.7 2.8 2.5 0.6 2.5-1.8 2.5 1.4 3 3.9 2.6 2.5 6.9 4.8 2.5 0.8 7.5-0.1 2.5-0.3 2.5-0.7 10-8.3 0.9-1.2 3.9-7.5 0.5-2.5 -0.9-2.5 -3.7-5 -3.2-2.4 -5-2.5 -2.5-0.9 -2.5-0.3 -7.5 0 -2.5 0.2 -2.5 0.7 -6.2 3.2"/>
<path stroke-dasharray="3.4 1.6" d="M347.4 266l-4.9 4.9 -6.6 7.5 -1.2 2.5 -0.8 7.5 -1.6 5 0.1 2.5 2.6 9.4 1.6 3.1 5.9 5 5 3.4 12.5 3.2 4.6 0.9 12.9 0.7 2.5-0.2 2.5-1.1 7.5-4.8 2.6-2.1 1-2.5 3.9-4.7 4.9-7.8 1.1-2.5 2.9-15 -0.1-2.5 -0.5-2.5 -3.3-11.9 -3.7-10.6 -1.3-2.5 -5-4.1 -2.6-0.9 -9.9 1.9 -7.5 0.6 -2.5 0.7 -1.6 1"/>
<path stroke-dasharray="3.4 1.6" d="M398.1 227.9l-3.1-0.2 -5 0.4 -15 2.9 -10.7 2.4 -6.8 1.8 -1.6 0.7 -3.4 3 -2.5 1.6 -2.5-0.1 -2.5-0.6 -1.3 1.1 -1.5 2.5 -0.2 2.5 -2.1 2.5 -0.6 2.5 -1.8 1.9 -0.6 3.1 -1.9 1.6 -1.3 3.4 -1.2 1.4 -0.5 3.6 0.5 1.4 2.5-0.7 0 1.9 -2.5 2.8 -0.7-0.4 -0.4-2.5 -1.4-0.6 -1.2 3.1 -1.3 1.3 -1.1 3.7 -1.4 2.2 -1.2 5.3 0.7 2.5 3 1.9 0.4 0.6 0.2 2.5 -0.4 2.5 -2.4 10 0.6 2.5 2.2 5 6.5 7.5 6 5 6.9 3.8 5 1.8 15 3.7 12.5 1.9 5 0.2 10-2.6 2.5-1.4 5.8-7.4 3.4-5 1.4-5 1.9-3.9 2.4-6.1 1.1-5 2-22.5 0.2-5 -2.8-28.3M610 479l-1.4 4.4 -0.3 2.5 1.7 3.9 1-1.4 2.7-2.5 -1.2-6.3 -2.5-0.6"/>
<path stroke-dasharray="3.4 1.6" d="M101.1 63.4l1.4 2.9 2.5 0 0.4-0.4 0.8-2.5M407.1 350.1l7.9-9.4 2.5-5.5 3.3-9.3 1.4-7.5 1.6-5 0.6-10 2.1-22.5 -1-12.5 -1.3-10 0.1-7.5 -0.8-5 0-10 -0.4-2.5 -1.6-5 -0.9-5 -1.1-2.5 -2.3-2.5 -2.2-1.3 -2.5-0.6 -2.5-0.2 -7.5 0.1 -5 0.8 -7.5 2.1 -12.5 4.7 -6.5 1.9 -32.1 7.5 -3.2 2.5 -5.7 6.6 -1.6 0.9 -0.9 0.9 -4.4 9.1 -1.1 5 -2.8 5 -0.6 2.5 -1.1 2.3 1 2.7 0.1 2.5 -0.8 2.5 0 2.5 -0.3 1.6 -0.6 0.9 -1.7 5 1 5 -0.6 2.5 0.4 2.5 -0.1 2.5 -1.3 5 0.1 2.5 0.9 5 1.9 3.5 2.5 6.3 -0.8 2.7 0.8 1.7 2.5 0.8 2.8 2.5 2.2 1.1 8.7 3.9 3.8 1.2 17.5 4.2 12.5 3.9 5 2 7.8 4.2M606.5 474.8l-1.2 6.1 0.4 12.5 0.5 5 1.3 4.2 0.7 0.8 0.8 2.5 1 7.8 2.5 1.6 1.8-1.9 0.7-1.5 1.2-6 1.3-4 0.6-3.5 0.4-12.5 -1.4-5 0.5-10 -0.3-2.5 -2.3-7.3 -2.5-5.8"/>
<path stroke-dasharray="3.4 1.6" d="M95.8 63.4l2 5 2.2 3.8 2.5 3.1 1.7-1.9 0.8-0.4 3.6-4.6 1.3-2.5 0.5-2.5M358.8 345l7.7 3.4 3.5 1.9 5.9 5.6 4.2 5 2.9 5 4.5 9 2.5 3.8 2.5 2.6 5 4.1 2.5 1.1 2.5 0 7.5-3.5 3.1-2.1 5.6-7.5 0.8-2.5 0.5-0.7 2.5-6.5 5.9-20.3 2.2-5 2.4-7.5 2.7-25 1.7-25 -3.4-35 0.1-15 0.9-7.5 0-15.3 -0.3-2.2 -0.8-2.5 -1.4-3 -2.5-3.1 -2.5-1.4 -2.5 0.1 -12.5 2.6 -15 4.5 -10 6.5 -12.5 7 -20 6.2 -29.3 8.1 -3.8 2.5 -3.7 7.5 -2.3 7.5 -1.5 2.5 -1 2.5 -1 5 -1.8 5 -0.6 3.4 -6.2 19.1 -0.1 2.5 -1.3 7.5 0.1 2.5 -0.6 7.5 0.4 7.5 1.7 5 1.3 5 2.4 5 1.9 2.5 2.9 3 5 7 2.5 1.2 12.6 1.9M267.5 242.5l-1 5.9 -2.5 5 -2.5 2.5 -1.5 1 -2.5 1.1 -5 0.9 -0.7 0.7M254.5 285l1.1 3.4 4.4 8.8 2.5 3.9 2.5 1.6 2.5 0.4 2.5 0 2.5-1.1 2.5-2.6 2.5-3.6 1.6-2.4 0.9-2.3 0.8-7.7 0-2.5 -0.6-2.5 -6.8-17.5 -3.4-11.9 -2-3.1 -0.5-3.4M604 463.5l-1.1 12.4 -1.3 2.5 -0.1 2.5 0.5 2.5 1 17.5 1.5 12.5 4.4 12.5 1.1 2.8 1.4 2.2 1.1 3.2 2.5-1.2 3.3-9.5 1.3-7.5 1.6-17.5 0.4-12.5 -1-17.5 -1.3-12.5 -1.8-6.1 -2.5-5.3 -1.7-2.6M359.9 458.3l-3.2-3.4"/>
<path stroke-dasharray="3.4 1.6" d="M88.6 63.4l1.6 2.5 4.2 12.5 2.7 6.5M106.4 83.8l1.1-1.8 5-13.7 0.7-2.4 0.3-2.5M337.2 570.9l0.8-2.5 1.9-2.5 0.5-2.5 -0.4-0.8 -2.8-1.7 -8.1-1.9M312 557.6l-9.5 2.9 -2.5 1.4 -5 3.8 -2.9 5.2M620.4 570.9l0.3-3.7M621.6 549.6l1.2-23.7 0-7.5 1.6-22.5 0.4-17.5 -1.2-22.5 -0.3-2.5 -1.2-5 -0.5-7.5 -1.6-3 -5-6.3 -1-0.7 -1.5-1.7 -2.5 1 -4.6 5.7 -1.5 2.5 -1.3 5 -3.2 17.8M598.3 478.7l0.1 7.2 1.6 32 1.4 8 1.6 15 1.3 5 6.8 17.5 1.2 5 0 2.5M290 341.3l7 4.6 3 3.1 3.4 1.9 1.6 1.3 4.6 1.2 6.7 2.5 1.2 1 1.1 1.5 1.4 0.5 2.5 0.2 5-1.5 5-2.2 7.5-4.2 2.5-0.1 5 0.4 2.5 0.5 2.5 1 7.5 5.3 7.9 7.6 2.1 2.5 1.5 2.5 3.6 7.5 0.6 2.5 -0.2 2.5 -3 14.3 -1.6 3.2 -1.7 2.5 -4.8 5 -9.4 5.4 -2 2.1 -5.7 12.5 -5.3 20 -0.2 2.5 0.2 2.5 2 15 0 2.5 -2.3 15 -1.7 3.8 -6.9 11.2 -1 2.5 0.4 3.1 1.7 4.4 1.3 2.5 2 1.7 7.5 3.9 2.5 0.4 7.5-1.5 2.5-1 2.5-2.1 6.1-8.9 7.6-17.5 3.9-7.5 2.4-6 4.1-9 1.7-5 4.8-20 3.7-12.5 1.1-2.5 6.3-10 2-2.5 3.6-2.5 2.7-1.3 2.5-2 7.5-8.1 10.8-21.1 6.4-17.5 5.4-22.5 1-5 0.7-5 0.5-7.5 1.2-10 0-7.5 2.7-27.5 1.2-20 0.9-22.5 0.1-22.5 -1.8-17.5 -2.7-12.5 -1.4-4.7 -2.3-5.3 -2.7-2.3 -2.5-0.4 -2.5 0.2 -2.5 1.2 -5 3.7 -2.5 1.4 -14.7 11.2 -5.3 2.8 -5 3.2 -10 7.9 -15 8.5 -17.5 6.9 -32.5 8.2 -2.5 1.2 -5 3.6 -2.5 1.3 -1.8 1.4 -1.5 2.5 -5.1 15 -4.1 13.5 -2.5 6.1 -2.5 3.2 -2.5 1.7 -2.5-0.6 -2.5-2.2 -7.5-9.1 -0.9-2.6 -1.7-15 -5.9-25 -6.1-30 -0.8-2.5 -2.1-3.8 -2.5-2.8 -7.5-5 -6.9-5.9 -3.1-1.1 -2.5 0.1 -1.6 1 -0.9 0.9 -0.8 1.6 -0.7 2.5 -0.9 10 1.6 20 0.1 22.5 0.7 32.5 2.1 10 0 2.5 -0.7 5 0 2.5 0.6 7.5 3 9.9 5 14.2 2.4 5.9 2.6 4 2.5 3.7 2.5 2.7 7.5 4.8 6.7 2.7M350.7 532.7l-0.7-1 -2.5-0.9 -2.5 0.4 -0.5 0.6"/>
<path d="M625.5 63.4l1.2 47.5 0 42.5 -0.7 5 -1.1 2.5 -1 5 -1.3 17.5 2.3 17.5 -1 10 1.5 17.5 -0.1 20 -0.9 10 -0.6 2.5 -2.6 7.5 -4.5 15 -2.3 20 -0.7 2.5 -2.4 5 -1.5 2.5 -2.9 3M600 326.9l-4.9 11.5 -3.2 10 -0.2 2.5 2.4 40 1.2 35 0.1 12.5 -0.4 7.5 -0.3 20 0.4 35 -0.1 20 0.4 7.5 -1.3 17.5 -3 15 -1.1 0.9 -2.5-0.2 -2.4-0.7 -12.6-4.5 -2.5-1.9 -0.8-1.1 -3.1-7.5 -1.5-2.5 -2.1-1.4 -7.5-3.1 -3.4-3 -1.6-5 -2.2-10 -0.3-0.5 -2.5 0 -2.3 10.5 -1.5 17.5 -0.9 2.5 -5.7 7.5 -7.1 6.3 -0.8 1.2 -1.2 5M82.5 217.7l1.3-51.8 0.8-5 0-10 1.5-10 0.8-15 0.6-4.1 2.5-7.5 5 2.7 0.3-0.2M104.1 108l3.4-5.2 0.7-1.9 4.3-17.5 4.1-20M82.5 459.9l2.5-0.7 2.5 1.1 0.4 0.6 0.5 2.5 -0.3 5 -0.8 2.5 -1.3 2.5 -1 5 0.4 18.9M85.7 510l-0.4 8.4 -1 5 -0.1 7.5 -1.7 4M627.5 527.2l-0.7-8.8 0.7-15.2M153.3 570.9l-1.9-7.5 -6.6-17.5 -1.1-5 -2-5 -7.9-15 -1.5-5 -1.4-7.5 -0.9-2 -0.8-0.5 -1.7-0.3 -0.6 0.3 -1.9 1.5 -0.4 1 -2.1 10.8 -1.3 14.2 -0.1 7.5 -0.7 5 -1.7 6.1M109.7 554.4l-2.3-6 -1.3-7.5 -1.1-2.8 -0.4-2.2 0.1-5 -0.4-5 -0.9-5 0.1-10 -0.6-11.1M101.2 487.3l-1.1-3.9 -2.6-15.1 -1.3-2.4 -1.2-3.3 -1.4-1.7 -1.1-3.8 -0.8-1.2 -3.5-2.5 -0.7-0.8 -0.5-1.7 -1-5 -1-10 0-35 -0.8-27.5 -0.1-35 -0.7-37.5 -0.4-42.5 -0.5-5.5M370 570.9l-0.3-5 1-7.5 1.8-1.9 2.5-0.4 5 0.3 2.5 1.6 2.5 2.5 2.5 1.6 2.5 0.2 2.5-1.1 1.7 2.2 1 2.5 -0.9 2.5 -2.1 2.5M446.7 570.9l-1.3-2.5 -3.5-12.5 -6-17.5 -3.9-20 -2-8.5 -2.5-8.3 -1.3-3.2 0.2-2.5 -3.5-7.5 -5.4-16.3 -2.1-3.7 -5.4-6.9 -0.9-3.1 0.9-1.6 2.5-1.1 2.5-1.5 1.9-3.3 0.3-2.5 -1-5 -0.1-2.5 1.4-3.3 4.9-9.2 4.1-5 1.5-2.5 2.2-12.5 6.3-15 8.8-17.5 8-27.5 5.2-30 0.1-2.5 0.7-2.5 0-2.5 2-5 2.1-10 3-22.5 2.2-20 1.3-22.5 -4.8-45 -1-25 -1.5-25 -2.2-15 -0.5-2.5 -2.4-3.3 -2.5-1.6 -2.5-0.4 -7.5 0.7 -2.5 1.1 -7.5 6.7 -2.5 3.5 -5 11.4 -8.6 21.9 -3.2 5 -0.8 2.5 -1.5 2.5 -3.4 3 -0.9 2 -1.8 2.5 -2.4 2.5 -12 10 -3.3 2M378.3 196.4l-17.1 9.5 -5.3 2.5 -13.4 4.6 -20 4.1 -5 1.6 -7 4.7 -6.7 7.5 -2 2.5 -1.1 2.5 -1.3 5 -1.9 4.4 -2.5 3.7 -2.5 0.2 -2.5-2.8 -5-12.2 -4.3-25.8 -2.3-22.5 -3.4-11 -2.5-6 -5-7.2 -4.4-3.3 -0.6-0.8 -4.8-11.7 -1.3-2.5 -9.6-10 -11.8-17.8 -2.1-2.2 -0.4-0.3 -2.5 0 -3.8 7.8 -0.4 5 -1.2 5 -1.2 10 1 17.5 0.7 5 1 17.5 1.8 20 5.3 30 0.8 10 0.4 15 1.4 20 2.1 17.5 0.8 2.5 0.3 2.5 1 2.1 0.1 2.9 0.7 2.5 0.3 2.5 1.2 2.5 0.2 2.7 2.5 7.3 0 5.1 1.2 2.4 1.9 2.5 1.9 1.1 0.6 1.4 6.9 10.4 1.7 2.1 3.8 2.5 5.4 5 4.1 5.8 7.5 3.1 5.1 3.6 2.4 1.1 5.9 3.9 6.6 3.2 4.8 1.8 2.7 1.9 2.5 0.8 5 0.6 2.5-0.2 2.5-1.9 0.9-1.2 2.8-2.5 5.2-2.5 6.1-2.5 5-1 2.5-0.1 2.5 0.2 10 3.4 3.3 2.5 1.5 2.5 -0.2 2.5 -2.1 3.1 -5.9 4.4 -13.2 7.5 -3.4 3.4 -1 1.6 -0.9 2.5 -1.2 7.5 0 2.5 1 7.5 0.5 7.5 -2.8 25 -3.6 22.5 -1.8 7.5 -1.1 7.5 -1.4 5 -1.4 7.5 -2.8 10 -0.1 2.5 0.4 2.5 -1.1 2.5 -0.5 2.5 -1.4 2.5 -0.7 2.5 -5.3 10 -2.3 2.7 -1.1 2.3 -4.8 5 0.3 2.5 -1.5 2.5 -0.4 0.4 -2.5 0.3 -5-1.8 -2.5 0.4 -1.2 0.7 -3.8 3.2 -2.9 1.8 -2.1 1.8 -2.5 1.1 -2.5 2 -0.9 2.6 -1.5 2.5 -4.3 5"/>
<path d="M351.3 63.4l2.1 5 1.6 1.9 2.5 2.4 2.5 1.7 1.2 0.3M373.1 71.9l3.2-3.5 2.6-5M619.1 63.4l-0.9 30 -5 35 -2.3 22.5 -0.5 12.5 -1.2 5 -7.5 25 -2.8 12.5 -0.4 5 0.6 17.5 -0.2 2.5 -1.4 6.1 -1.4 3.9 -6.1 9.2 -2.5 3.4 -4.4 4.9 -1.7 2.5 -1.4 2.7 -5 6.2 -3.8 3.6 -3.7 2.6 -6.9 2.4 -0.6 0.5 -1.1 2 -3 7.5 -3.4 14.8 -1 5.2 -2.3 17.5 -0.2 10 1 20 4.9 25 3.7 22.5 6.4 15.3 1.5 2.2 7 7.5 6.5 10.1 3.3 9.9 3.1 7.5 2.1 10 2.5 15 -0.4 5 -0.5 2.5 0.3 7.5 -0.3 2.5 0 7.5 -1.7 12.5 -0.6 7.5 -1.3 2.5 -1.5 2.1 -0.7 0.4 -1.8 0.9 -2.5-0.5 -0.6-0.4 -2.6-2.5 -4.5-7.5 -0.9-2.5 -3.6-17.5 -1.2-2.5 -1.6-5.1 -2.5-2.9 -1.6 0.5 -1.8 2.5 -1.6 0.8 -2.5-0.8 -2.5-5.7 -2.5-7.3 -2.5-2 -2.5 0.6 -2.5 1.9 -2 2.5 -2.4 7.5 -1 5 -0.6 7.5 -0.7 2.5 -0.3 12.5 -0.5 1.1 -1.3 1.4 -1.2 0.3 -2.5 1.5 -0.6 0.7 -1.9 3.5 -3.5 9 -0.6 2.5 0 2.5 1.4 2.5 0.2 1.7 0.9 0.8 -3.4 0.3 -1.8 2.2 -0.4 2.5 -1.8 5 -6 6.7 -2.5 0.2 -2.5-0.6 -2.5 0.1 -5 0.6 -10-1.9 -10-4.4 -7.5-4.3 -2.5-0.6 -5-0.1 -2.5-0.7 -5-4.8 -2.2-2.7 -14.8-45 -3-11.5 -2.5-6.2 -2.6-2.3 -0.5-2.5 0-5 0.5-15 1.1-12.5 1.3-12.5 3.7-15 3.3-10 3.8-10 4.2-7.5 5.5-7.5 11.2-17.5 5.9-10 1-2.5 4-20 4.1-32.5 1.4-32.5 -0.1-10 0.4-12.5 -0.2-7.5 0.2-5 -0.7-7.5 -0.1-15 -1.4-22.5 -0.9-22.5 -0.1-27.5 -3.2-25 -1.7-5 -5.2-12.5 -7.4-8.6 -2.5-2 -2.5-0.8 -12.5-1.6 -2.5-0.1 -2.5 0.6 -7.8 5 -3.3 2.5 -1.4 2.6 -2.3 2.4 -2.7 4.3 -4.2 5.7 -2.4 5 -2 2.5 -2.1 5 0 2.5 0.4 2.5 -0.6 5 -2.4 15 -0.6 2.5 -1.1 2.6 -7.5 8.8 -3.5 3.6 -1.9 2.5 -2.1 3.5 -8.5 11.5 -3.1 2.5 -8.4 5.6 -17.1 14.4 -2.9 2.1 -9.5 5.4 -3.7 1.1M326.7 208.2l-9.2 0.5 -2.5 0.5 -12.5 3.7 -2.5 0.4 -2.5 0.1 -2.5-0.6 -2.5-1.9 -2.5-4.3 -1.6-5.7 -0.6-12.5 -0.8-5 -3.7-10 -3.4-7.5 -1.3-5 -1.9-5 -2.9-5 -17.5-25 -11.3-24.2 -7.5-15.1 -2.5-4 -1.5-1.7 -3.5-5 -2.5 0.2 -5 5.6 -2.6 4.2 -4.9 29.8 -1.2 5.2 0.3 5 -0.7 10 0.7 5 0.9 10 -0.3 5 0.2 2.5 1.9 5 0.4 2.5 3.9 37.5 5.7 32.5 0.4 20 2.8 40 1.7 7.5 0.7 5 1.8 7.5 1.8 10 1.3 5 4.2 10 1.9 5 2.1 7.5 2 5.2 1.8 2.3 1.2 2.5 1.9 5 1.5 2.5 11.1 9.3 2.5 2.4 2.5 0.5 2.5-0.3 5 1.8 2.5 1.3 12.5 1.3 2 1.2 3 0.9 2.5 1.3 5 3.3 2.1 2 4.1 5 1.3 2.5 2.3 2.5 5.2 14.6 3.2 5.4 -0.2 10 -2 22.5 -0.3 2.5 -1.5 5 -1.9 10 -0.9 7.5 -0.1 5 -1.4 2.5 -1.7 10 -2.2 7.5 -1.7 5 -5.7 12.5 -0.9 5 -2.6 2.5 -1.8 2.5 -0.8 3.3 -1.4 1.7 -1.1 0.4 -1-0.4 -2.5-2.5 -0.7-2.5 0.4-2.5 -1.2-1 -2.5 0.1 -2.8 0.9 -2.7 2.5 -9.5 6.7 -12.5 13.3 -7.5 6.8 -7.7 8.2M187.1 570.9l-4.6-2.5 -10-0.3 -7.5-2.4 -2.5-2 -5.2-7.8 -1.7-5 -1-5 -0.1-2.5 1.2-2.5 -0.3-2.5 -3.8-7.5 -0.2-2.5 -1.2-2.5 -0.2-2.5 -1.3-2.5 -6.6-25 -2.6-7.5 -4.5-18.2 -5-14.6 -5-5.9 -2.5-1.8 -1.7 0.5 -1 2.5 -2.7 30 -0.3 12.5 -1.2 12.5 -0.6 4.1 -1.3 3.4 -1.2 5.1 -0.9-5.1 -1.6-5.3 -0.2-2.2 -0.8-17.5 -1.6-15 -0.1-15 -0.7-10 0.1-12.5 -1.4-12.5 -1.4-4.9M101.3 406.1l-0.7-7.7 -1.8-12.5 -5.8-30 0-2.5 0.8-2.5 1.2-1.2 0.3-1.3 0.1-2.5 -0.4-3.1 -2.9-14.4 -3.2-22.5 -2.2-22.5 -0.6-27.5 -0.9-5 -0.2-5 1.1-45 1.5-25 2.4-11.3 2.9-6.2 0-2.5 1-2.5 0.2-2.5 1.2-2.5 2.7-2.5 1.4-2.5 4.1-12.4M107.6 118.9l4.2-13 4.9-17.5 5.2-25"/>
<path d="M211.7 63.4l-7.3 45 -0.4 10 0.2 15 1.6 12.5 0.1 5 0.8 7.5 2.2 5 0.6 2.5 2.1 15 4.5 22.5 2.9 27.5 1.3 7.5 0.4 15 1.2 10 1.4 35 2.1 12.5 0.6 8.5M231.2 340.1l4.6 13.3 1.4 2.5 0.7 2.5 1.2 2.5 1.4 2.5 0.2 2.5 1.8 5.3 2.5 2 2.5 2.9 5 0.5 5 3.5 3.1 3.3 0.6 2.5 1.3 1.7 2.5 0.1 5-0.6 2.5 0.3 2.3 1 2.7 2 1.5 0.5 1 1.2 5 3.5 2.5 0.8 9.8 4.5 6.1 5 3 5 1 2.5 1.4 2.5 3.5 7.5 1.5 5 0.6 5 0.6 11.6 0.7 3.4 0.2 5 -0.4 5 -0.7 2.5 -1.3 2.5 -0.6 2.5 -1.6 7.5 -1.1 7.5 -2.5 10 -0.1 2.5 -0.5 2.5 -4.1 10 -0.5 5.3 -5 0.9 -1.5 1.3 -6 3.3 -2.5 0.8 -5 0.8 -8.6 5.1 -7.5 7.5 -4 5 -4.7 5 -2.7 2.1 -2.4 2.9 -15.1 12.4 -4.3 5.1 -2.7 2.5 -5.5 2.8 -10-1.1 -7.5-1.7 -5-5.6 -2.5-2.2 -9.4-4.7 -1-2.5 -1.6-2.5 -3-4.1 -2.5-2.3 -2.5 0.4 -2.5 1.8 -2.5 1.1 -2.5 0.2 -5-0.3 -2.5-1.7 -0.8-2.6 -0.3-2.5 -1.3-2.5 -2.6-3.1 -0.8-4.4 -1.7-2.5 -1-7.5 -2-5 -2-7.5 -0.3-2.5 -2-7.5 -2.3-12.5 -5.8-25 -2.1-5.8 -2.3-4.2 -0.3-2.5 -1-2.5 -0.5-2.5 -2.1-5 -2.3-7.5 -6.9-12.5 -6-15 -5.4-17.5 -5.9-15 -3.2-10 -0.5-2.5 -0.2-5 -0.4-2.5 -5.7-20 -7.2-45 -0.7-25 -0.8-12.5 0.6-25 0.8-13.2 2.5-24.5 3.2-14.8 0.8-2.5 1.1-2.5 3.5-5 1.4-5 0.1-2.5 4.2-7.5 9.6-32.5 8.2-25 4.6-22.5M329.3 63.4l1.6 30 2.4 32.5 1 17.5 1.2 11.2M351.1 165.3l3.6 8.1 0.4 2.5 -0.2 2.5 -0.9 2.5 -1.3 2.5 -2.7 3 -5.7 4.5 -4.3 2.3 -5 2 -2.5 0.5 -15-2.5 -5-1.3 -2-1 -5.5-4.5 -10-11.1 -5-7.3 -2.5-4.4 -2.9-7.7 -3.5-7.5 -7.2-12.5 -8.9-14.4 -7.5-13.5 -2.5-6.9 -4.7-15.2 -3-17.5 -1.2-5M611.6 63.4l-1.7 22.5 -4.6 30 -2.8 11.8 -7.1 25.7 -0.4 2.5 0.4 7.5 -0.4 2.5 -5.7 12.5 -11.8 29.4M557.8 215.9l-17.8 5.4 -5 0.9 -2.5 0.2 -2.5-0.3 -3-1.2 -12-8 -2.5-2 -4.7-5 -1.5-2.5 -0.5-2.5 0-15 -0.8-25 -2.4-25 -5.7-20 -8.4-22.5 -5.6-27.5 -1-2.5M451.5 505.8l-1.6-4.9 -1.8-10 -0.7-2.5 -4.9-7.4 -0.7-2.6 -0.9-22.5 0.6-22.5 0.7-5 3.9-12.5 6.7-15 2.2-3.7 5-7.6 1.4-1.2 1.9-2.5 1.4-2.5 2.8-2.4 2.5-1.5 2.5-2.8 0.3-0.8 2.4-2.5 9.8-7.2 2.5-1.5 10-4.2 2.5-0.6 5-0.1 5 0.4 2.5 0.8 3.9 2.4 2.6 2.5 1.8 2.5 3.2 5 1 2.5 2.5 3.6 1.5 1.4 1 2.5 0.1 5 2.7 7.5 0.1 2.5 1.3 2.5 0.7 2.5 -0.1 12.5 -0.9 5 0.2 5 0.7 5 0.2 7.5 -0.5 20 0.9 5 0.1 2.5 -0.9 5 -1.8 5 -0.9 5 -2.9 7.5 -1.3 2.5 -1.1 7.5 -1.4 2.5 -0.3 7.5 -1.4 7.5 -0.3 5 -2.2 5 -1 3.9 -2.5 6 -2.5 3.5 -3.1 1.6 -1.9 1.6 -10 2.7 -2.5-0.1 -2.5-0.9 -7.5-3.8 -10.8-7 -16.5-8.4M583.6 468.9l2.7 12 -0.4 2.5 -0.6 10 -2.8 7.1 -2.5 1.2 -4.6-5.8 -1.6-5 -1.2-5 -1-2.5 -0.4-10.7"/>
<path d="M163 63.4l9.5 9.9 2.5 1.6 5 2.2 2.1 1.3 1.5 2.5 1.4 4 1.9 6 4.1 17.5 1.5 11.4 1.4 6.1 3.2 17.5 -0.3 2.5 0.6 5 0.8 2.5 1 5 2.4 7.5 2.7 15 3.4 13.6M211.6 215.6l2.7 20.3 0.4 17.5 0.5 2.5 1.5 5 0.7 30 -0.1 5 0.5 7.5 1.1 7.5 0.9 15 2.1 10 1.9 5 1.8 12.5 1.9 9.2 1.7 3.3 2.1 2.5 0.8 2.5 0.4 5.4 1.6 2.1 0.8 2.5 1.6 2.5 0.9 2.5 2.6 3.7 1.3 1.3 1.2 0.4 5 3.2 2.5 1 2.5 1.5 5 1.3 5 2.8 15 3.5 5 0.4 2.5-0.2 2.5 1.2 2.1 2.4 3.6 2.5 4.6 2.5 2 2.5 5.9 10 3.2 12.5 0.9 5 0.4 10 -1.4 5 -0.8 5 -2.4 10 -2.9 10 0.1 2.5 -0.3 1 -2.1 4 -2.9 2.3 -5 5.6 -2.5 1.7 -2.5 1.4 -7.5 1.7 -5.2 2.3 -2.3 1.9 -4.7 5.6 -7.1 7.5 -10.7 10.6 -10 7.3 -10.4 7.1 -7.1 6.8 -2.5 1.2 -2.5 0 -2.5-1.1 -2.5-2.2 -5.5-7.2 -2.8-5 -1.7-7.5 -2.5-5 -2.5-7.3 -5.6-5.2 -2.2-2.5 -2.2-1.2 -2.5-1 -2.5 0.4 -7.5 4.2 -2.5 0.5 -2.5 0.1 -5-3 -6.9-17.5 -4.2-17.5 -4.2-20 -2.2-5.6 -1.3-1.9 -1.1-7.5 -2.1-5 -1.2-5 -0.9-2.5 -6.2-12.5 -19-47.5 -4-12.5 -4.5-12.5 -4.4-15 -4.3-20 -4-22.5 -0.6-5 -1.4-32.5 1.6-27.5 4.5-30 4.3-22.5 2.1-5.9 2.9-4.1 0.7-2.5 0.3-5 3-7.5 3.1-12.7 7.5-22.3 5.9-15 5.9-17.5 1.1-5 0.5-5 0.7-2.5M319.2 63.4l0.7 47.5 -1.5 27.5 -0.6 5 -5.3 12.3 -2.5 2.1 -2.5 0.5 -2.5-1.1 -2.5-2.2 -5-4.9 -2.8-4.3M283 127.8l-4.3-6.9 -17.2-37.5 -6.5-17.1 -0.8-2.9M602.6 63.4l-2.8 22.5 -4.5 22.5 -9 32.5 -6.8 20 -2 3.7 -7.5 11.3 -2.5 3.3 -1.9 1.8M546.8 188.2l-9.3-2.7 -3.9-2.1 -2.6-2.5 -3.5-4.2 -2.3-3.3 -1-2.5 -2.4-7.5 -1-5 -0.2-5 -1.3-12.5 -3.4-25 -0.9-3.4 -6.6-19.1 -7.8-30M457.7 487.1l-4.3-8.7 -1.1-5 -2.3-19.1 -0.7-20.9 0.7-2.9 5-13.4 10-13.4 3-2.8 12-6.5 2.5-0.7 7.5-1 2.5-0.1 2.5 0.2 10 3.2 2.5 1.7 11.8 13.2 0.7 3.7 2.2 3.8 1 2.5 0.5 2.5 0.1 5 0.8 5 1.3 5 0.4 2.5 0.4 7.5 -0.3 12.5 0.2 5 -0.8 2.5 -0.8 5.1 0.2 7.4 -2.8 7.5 -0.1 2.5 -5.2 27.5 -2.1 3.9 -2.5 2.6 -2.5 0 -5-3.8 -5-0.2 -7.5-3 -7.5-3.7 -2.5-1.5 -8.3-6.8 -3.8-2"/>
<path d="M309.1 63.4l0.1 5 -0.7 12.5 -3.4 25 -0.9 2.5 -2.5 5 -1.7 4.1 -2.5 0.6 -0.5-0.1M281.6 104.5l-5.1-8.6 -6.1-15 -4.8-17.5M593.5 63.4l-3 15 -5.5 23.1 -10 25.1 -7.5 16.5 -2.9 5.1M546.3 144.6l-1.3-1.3 -5-7.2 -1.3-2.7 -4.2-20 -1.6-5 -0.1-2.5 -0.6-2.5 -2.1-5 -0.5-2.5 -3.4-10 -6.2-13.6 -3.3-8.9M172.3 487.6l-2.8-1.7 -4.5-5.8 -2.5-4.3 -7.5-25.4 -0.9-4.5 -1.6-5.1 -2.5-10.2 -7-14.7 -22.9-57.5 -5.1-9.7 -2.2-5.3 -4.8-15 -4.2-17.5 -5-25 -0.6-5 -1.4-30 1.7-17.5 5.3-27.5 7.7-30 1.7-10 1.5-5 0.9-5 0.9-2.5 0.3-2.5 2.3-5 3.4-12.3 5-13.4 7.5-16.7 2.5-4.7 7.5-10.2 2.5-0.4 5.6 5.2 3.4 2.5 11 6.9 10 8.1 1.4 2.5 1.1 3.3 4.3 16.7 5 15 5.8 20 3.6 15 5.4 20 5.5 32.5 0.2 5 -0.3 5 0.7 10 1 7.5 0.4 12.5 0.8 10 -0.1 10 3.2 32.5 3.8 27.5 1.2 5 0.4 5 0.6 2.5 1.2 2.5 0.5 2.5 1.8 4.8 0.3 2.7 2.5 5 2.2 7.3 0.5 0.2 1.3 2.5 8.2 7.7 5 0.8 2.5-0.1 1.9 1.6 5.6 0.6 3.6 1.9 3.9 1 2.5 0.2 5-1.7 2.5 0.4 2.5 1.8 2.7 0.8 2.1 2.5 2.7 1.4 7.5 4.9 2.5 2.5 2.5 3.6 1.3 2.6 4.7 10 0.9 2.5 0 5 0.7 5 0 10 -2 2.5 -1.3 2.5 -2 7.5 -4.8 11.4 -2.5 2.3 -5 3.3 -2.5-0.5 -5-2.2 -2.5-0.3 -3.1 1 -1.9 1.5 -4.2 6 -5.9 7.5 -4.4 5 -7.3 7.5 -3.2 2 -5 4.5 -7.5 4.2 -10 7.5 -2.5 0.3 -5-2.9 -3.3-5.6 -2.2-2.5 -1.3-2.5 -1.9-5 -1.2-5 -2.5-5 -2.1-5 -1.3-5 -1.6-2.5 -0.8-2.5 -3.6-2.4M240 397.9l0.8 0.5 -0.8 0.8 -1.5-0.8 1.5-0.5M247.5 400.9M460.9 451l-0.9-15.1 0.6-2.5 4.4-9.9 2.4-2.6 7.6-7 2.5-1.7 7.5-2.6 2.5-0.2 7.5 1.7 2.5 1.2 7.4 6.1 2.3 2.5 7.8 12.3 2.5 2.7 1.6 5 -0.1 2.5 1 5 0.5 17.5 -1.1 10 0.2 5 -0.2 5 -1.9 11.1 -2.2 3.9 -0.3 1.2 -2.5 3.6 -2.5-1.1 -2-3.7 -4.5-2.5 -8.5-4.2 -2.5-0.8 -5-0.2 -2.5-0.9 -5-3.3 -10-7.9 -2.5-1.1 -2-1.6 -1.2-2.5 -1-3.6"/>
<path d="M293 63.4l-0.5 2.7 -2.2 2.3 -0.3 0.3 -2.5 0.4 -2.5-0.5 -2.5-1.4 -1-1.3 -1.2-2.5M584 63.4l-0.9 5 -3.1 12.9 -5 11 -3.4 5.9M555.9 109.6l-0.9-0.5 -2.3-3.2 -1.9-5 -3.3-16.2 -2.7-21.3M180.5 458.4l-7.9-7.5 -4.4-5 -3.2-2.6 -2.3-2.4 -2.7-4.7 -2.5-5.2 -29.1-72.6 -3.4-7.1 -2.5-2 -3-5.9 -4.5-13.4 -6.5-21.6 -4.7-22.5 -0.6-5 -0.5-25 2.6-25 4.8-22.5 5-17.5 1.1-2.5 1.3-1.8 5.7-5.7 1.1-2.5 2.5-27.5 1.4-7.5 1-2.5 0.8-1.1 9.2-8.9 5.8-6.1 2.5-2 2.5-0.5 2.5 1.1 3 2.5 7.7 5 2.7 2.5 3.8 2.5 4.4 7.5 5 7.5 1.2 2.5 2.2 2.7 1 2.3 3.2 12.5 10.8 32.5 3.9 15 2.9 12.5 0.7 7.5 -0.1 5 0.3 2.5 1.3 5 0.3 2.5 0.6 22.5 1.6 10 -0.1 2.5 -0.8 5 -0.1 5 0.6 5 0.7 12.5 2.3 30 1.2 12.5 2.1 15 0.1 2.5 0.8 2.5 0.2 5 1.9 7.5 3.9 7.5 0.9 5 2.3 2.7 2.5 1 1.1 1.3 0.8 2.5 3.1 1.6 2.5 0.4 2.5-1 2.5-0.5 2.5 1.8 7.5 2.6 12.5 3 5 1.7 7.5 1 5.9 1.9 1.6 1.4 2.5 1 2.5 2.8 3.9 7.3 3.6 5 0 7.5 -0.3 2.5 0.2 2.5 -0.4 5 -2 3.8 -5 12.9 -0.9 0.8 -1.6 0.7 -2.5-0.4 -5-1.7 -5-0.9 -2.5 0.1 -2.5 1.8 -7.6 7.9 -2.2 2.5 -2.7 4 -2.5 2.1 -1.2 1.4 -9.2 7.5 -2.1 2.6 -2.5 1.8 -1.4 0.6 -6.1 1.4 -2.5 1 -2.7 2.6 -2.3 1.6 -2.5 0.9 -2.5-0.4 -8.7-9.6 -0.5-5 -1.3-5 -10.6-20.7M485.4 425.2l2.1 0.3 2.5 1.3 2.5 2 6.8 7.1 8 12.5 2.5 5 2.7 6.9 0.6 3.1 0 2.5 -0.6 3.7 -2.5 10.3 -2.5 0.7 -2.5-5.1 -2.1-2.1 -2.9-1.3 -2.5-0.8 -2.5 0.1 -5 1 -2.5-0.2 -3.5-1.3 -4-2.7 -5.2-7.3 -2.3-7.3 -0.7-5.2 0.4-5 0.7-2.9"/>
<path d="M181.1 432.5l-9.6-9.1 -6.5-7.8 -2.5-3.7 -5-10.1 -20-49.1 -5-5.7 -2.8-6.1 -7.2-18 -2.7-7 -9-30 -0.7-2.5 -0.1-2.5 0.9-30 1-20 0.6-1.4 2.5-2.8 13.7-10.8 2.4-2.5 1.4-3.6 1.3-6.4 3.1-12.5 5.6-16.9 1.5-3.1 1-1.5 3.2-3.5 1.8-3.3 2.5-0.9 2.5 0.1 8.4 1.6 4.1 0.4 2.5 0.6 1.9 1.5 0.6 0.8 4.2 9.2 3.1 5 0.9 2.5 1.6 2.5 2.2 5 0.9 2.5 5.3 10 5.8 15 2.9 12.5 1.3 15 1.9 5 -0.2 7.5 0.5 12.5 0.5 2.5 -0.3 2.5 1.1 2.5 0.2 2.5 0.6 2.5 0.1 10 -0.6 5 0.4 7.5 -0.3 10 -0.1 17.5 0.6 5 -0.1 7.5 0.5 7.5 -0.1 5 1.7 17.5 1.5 25 1.4 7.5 0.2 2.5 0.7 2.5 2.4 5 1.7 2.3 5 4.9 2.5 1.1 2.5 0.2 7.5-1.2 5 0.7 2.5 0.1 5 0.7 7.5 1.8 5 1.9 2.4 2.5 2.6 4 5 6.5 2.5-0.5 1.3-5 1-2.5 1.6-2.5 1.1-0.6 2.5-0.3 1.9 0.9 1 2.5 -0.2 5 2.1 7.5 -0.2 2.5 -0.7 2.5 -1.4 3.1 -2.5 1.1 -2.5 0.5 -2.5-0.6 -2.5-1.1 -2.5-0.3 -2.5 1.4 -2.5 2.1 -5 5.2 -2.2 3.6 -4.1 5 -6.7 7.5 -7 6.8 -5 1.4 -7.5-0.3 -5 1.1 -2.5-1.1 -5-5.5 -5.6-12.4 -1.8-5 -0.5-5 -1.6-2.5 -0.7-2.5 -1.6-2.5 -0.7-2.5 -1.9-2.5 -2.1-1.2"/>
<path d="M175.3 405.8l-7.5-12.4 -2.4-5 -6.1-15 -1.2-2.5 -0.7-2.5 -1.2-2.5 -1.2-3.6 -4.7-11.4 -1.1-5 -2.3-7.5 -8.8-32.5 -4.7-22.5 0-2.5 1-7.5 1.8-10 2.3-10 1.5-3.5 1-4 2.3-20 4.6-17.5 2.1-4.1 7.5-9.9 2.5-2.3 7.5-5 2.5 0.4 2.5 2.6 5 6.7 2.6 4.1 1.7 5 3.6 7.5 5.8 17.5 0.3 2.5 0.9 2.5 0.2 2.5 0.9 2.5 0.1 2.5 1.1 5 1.5 5 1.5 7.5 0.5 5 0.3 10 0.6 2.5 0 2.5 0.4 2.5 -0.1 2.5 0.4 5 -0.4 7.5 0.4 7.5 -0.3 20 -1.3 12.5 -0.4 7.5 0.6 7.5 -1 7.5 -0.1 5 0.4 5 -0.3 5 -1.6 15 -0.7 5 -3.1 9.5M238.3 451.3l1.2 2.1 -0.6 5 -1.4 7.5 -1.2 2.5 -1.3 1.5 -2.5 1.7 -2.5 0.4 -2.5-1.4 -1.2-2.2 -0.8-2.5 -1-7.8"/>
<path d="M171.6 221.8l0.9-0.5 2.5 0.5 2.5 1.5 5 4.4 2.3 3.2 2.9 15 0.6 5 1.9 5 2.2 10 1 15 0.5 2.5 0.1 12.5 0.8 12.5 -0.7 7.5 -0.9 20 -2.5 20 -0.3 5 -0.7 2.5 -1.1 2.5 -1.2 7.5 -1.2 5 -1.2 3.1 -2.5 3.1 -2.5 0.3 -2.5-2.1 -2.5-3.8 -2.6-5.6 -2.7-7.5 -2.7-5 -5-12.5 -1.4-5 -1.8-10 -1.5-10 -2.2-22.5 -0.1-20 3-22.5 2.1-10 0.5-9.7"/>
<path d="M184.1 279l3 11.9 0.3 2.5 -0.1 22.5 -2.7 22.5 -2.3 5 -1.6 5 -0.7 0.9 -1.1-0.9 -1.4-1.8 -1.1-3.2 -1.4-2.5 -1.9-5 -2.5-5 -0.5-5 -1.8-7.5 -1.2-7.5 -0.3-5 0.6-20 0.3-2.5 2.6-4.2"/>
</g>
<g font-size="13.8" fill="#111" stroke="#111" stroke-width="0.35" text-anchor="middle">
<text transform="translate(101.7 90.9) rotate(0)" y="5.0">-5</text>
<text transform="translate(100.5 113.3) rotate(0)" y="5.0">0</text>
<text transform="translate(105.6 125.0) rotate(0)" y="5.0">5</text>
<text transform="translate(210.2 205.0) rotate(-30)" y="5.0">15</text>
<text transform="translate(163.5 228.5) rotate(10)" y="5.0">40</text>
<text transform="translate(177.5 271.5) rotate(0)" y="5.0">45</text>
<text transform="translate(227.6 330.0) rotate(-42)" y="5.0">10</text>
<text transform="translate(287.3 113.5) rotate(0)" y="5.0">20</text>
<text transform="translate(289.1 136.6) rotate(0)" y="5.0">15</text>
<text transform="translate(343.0 160.1) rotate(0)" y="5.0">10</text>
<text transform="translate(367.5 74.9) rotate(0)" y="5.0">5</text>
<text transform="translate(333.0 207.6) rotate(0)" y="5.0">5</text>
<text transform="translate(384.0 193.4) rotate(0)" y="5.0">0</text>
<text transform="translate(410.8 229.8) rotate(-28)" y="5.0">-20</text>
<text transform="translate(357.5 257.5) rotate(0)" y="5.0">-25</text>
<text transform="translate(346.6 278.9) rotate(32)" y="5.0">-30</text>
<text transform="translate(252.1 272.1) rotate(50)" y="5.0">-10</text>
<text transform="translate(282.5 336.7) rotate(5)" y="5.0">-5</text>
<text transform="translate(345.8 343.4) rotate(0)" y="5.0">-10</text>
<text transform="translate(395.1 353.7) rotate(-3)" y="5.0">-15</text>
<text transform="translate(565.2 106.9) rotate(0)" y="5.0">25</text>
<text transform="translate(554.5 151.2) rotate(0)" y="5.0">20</text>
<text transform="translate(557.5 188.0) rotate(0)" y="5.0">15</text>
<text transform="translate(568.1 212.6) rotate(0)" y="5.0">10</text>
<text transform="translate(602.5 321.0) rotate(20)" y="5.0">0</text>
<text transform="translate(183.9 411.8) rotate(0)" y="5.0">35</text>
<text transform="translate(189.2 439.4) rotate(-30)" y="5.0">30</text>
<text transform="translate(188.9 465.1) rotate(-30)" y="5.0">25</text>
<text transform="translate(182.9 486.0) rotate(-15)" y="5.0">20</text>
<text transform="translate(228.4 448.8) rotate(35)" y="5.0">35</text>
<text transform="translate(101.9 412.5) rotate(-72)" y="5.0">5</text>
<text transform="translate(102.5 493.5) rotate(-90)" y="5.0">0</text>
<text transform="translate(85.7 503.6) rotate(-90)" y="5.0">0</text>
<text transform="translate(115.0 557.1) rotate(0)" y="5.0">0</text>
<text transform="translate(362.4 453.2) rotate(55)" y="5.0">-10</text>
<text transform="translate(346.5 538.5) rotate(-90)" y="5.0">-5</text>
<text transform="translate(320.6 556.6) rotate(25)" y="5.0">-5</text>
<text transform="translate(476.7 430.4) rotate(60)" y="5.0">25</text>
<text transform="translate(462.1 461.7) rotate(-65)" y="5.0">20</text>
<text transform="translate(463.2 496.3) rotate(-70)" y="5.0">15</text>
<text transform="translate(455.0 516.0) rotate(-70)" y="5.0">10</text>
<text transform="translate(575.3 463.6) rotate(15)" y="5.0">10</text>
<text transform="translate(607.3 450.7) rotate(50)" y="5.0">-10</text>
<text transform="translate(609.6 462.2) rotate(50)" y="5.0">-15</text>
<text transform="translate(611.3 472.5) rotate(50)" y="5.0">-20</text>
<text transform="translate(599.1 470.0) rotate(60)" y="5.0">-5</text>
<text transform="translate(621.3 558.4) rotate(-90)" y="5.0">-5</text>
</g>
<rect x="626" y="63.4" width="1.4" height="507.5" fill="#fff"/>
<rect x="82.5" y="63.4" width="2.7" height="507.5" fill="#fff"/>
</g>
<g stroke="#222" stroke-width="0.9" fill="none">
<rect x="82.5" y="63.4" width="545" height="507.5"/>
<line x1="82.5" y1="570.9" x2="82.5" y2="574.7"/>
<line x1="173.3" y1="570.9" x2="173.3" y2="574.7"/>
<line x1="264.2" y1="570.9" x2="264.2" y2="574.7"/>
<line x1="355.0" y1="570.9" x2="355.0" y2="574.7"/>
<line x1="445.8" y1="570.9" x2="445.8" y2="574.7"/>
<line x1="536.7" y1="570.9" x2="536.7" y2="574.7"/>
<line x1="627.5" y1="570.9" x2="627.5" y2="574.7"/>
<line x1="82.5" y1="63.4" x2="78.7" y2="63.4"/>
<line x1="82.5" y1="232.6" x2="78.7" y2="232.6"/>
<line x1="82.5" y1="401.7" x2="78.7" y2="401.7"/>
<line x1="82.5" y1="570.9" x2="78.7" y2="570.9"/>
<g stroke-width="0.65">
<line x1="82.5" y1="114.3" x2="80.3" y2="114.3"/>
<line x1="82.5" y1="144.1" x2="80.3" y2="144.1"/>
<line x1="82.5" y1="165.2" x2="80.3" y2="165.2"/>
<line x1="82.5" y1="181.6" x2="80.3" y2="181.6"/>
<line x1="82.5" y1="195.0" x2="80.3" y2="195.0"/>
<line x1="82.5" y1="206.4" x2="80.3" y2="206.4"/>
<line x1="82.5" y1="216.2" x2="80.3" y2="216.2"/>
<line x1="82.5" y1="224.8" x2="80.3" y2="224.8"/>
<line x1="82.5" y1="283.5" x2="80.3" y2="283.5"/>
<line x1="82.5" y1="313.3" x2="80.3" y2="313.3"/>
<line x1="82.5" y1="334.4" x2="80.3" y2="334.4"/>
<line x1="82.5" y1="350.8" x2="80.3" y2="350.8"/>
<line x1="82.5" y1="364.2" x2="80.3" y2="364.2"/>
<line x1="82.5" y1="375.5" x2="80.3" y2="375.5"/>
<line x1="82.5" y1="385.3" x2="80.3" y2="385.3"/>
<line x1="82.5" y1="394.0" x2="80.3" y2="394.0"/>
<line x1="82.5" y1="452.7" x2="80.3" y2="452.7"/>
<line x1="82.5" y1="482.4" x2="80.3" y2="482.4"/>
<line x1="82.5" y1="503.6" x2="80.3" y2="503.6"/>
<line x1="82.5" y1="520.0" x2="80.3" y2="520.0"/>
<line x1="82.5" y1="533.4" x2="80.3" y2="533.4"/>
<line x1="82.5" y1="544.7" x2="80.3" y2="544.7"/>
<line x1="82.5" y1="554.5" x2="80.3" y2="554.5"/>
<line x1="82.5" y1="563.2" x2="80.3" y2="563.2"/>
</g></g>
<rect x="80.3" y="61" width="161.2" height="339.3" fill="none" stroke="#2e0a7e" stroke-width="2.6"/>
<rect x="461.9" y="59.6" width="171.9" height="287.8" fill="none" stroke="#2e0a7e" stroke-width="2.6"/>
<rect x="270.3" y="198.5" width="186" height="173.8" fill="none" stroke="#0a1ed6" stroke-width="2.8"/>
<rect x="162" y="408.5" width="141.2" height="143.3" fill="none" stroke="#e0141e" stroke-width="2.6"/>
<rect x="446.3" y="391" width="88.6" height="148.8" fill="none" stroke="#e0141e" stroke-width="2.6"/>
<g fill="#111" stroke="#111" stroke-width="0.3">
<text x="198.6" y="24" font-size="21.4">ECMWF Zonal Mean Zonal Wind</text>
<text x="181.2" y="56.2" font-size="18">240h</text>
<text x="236.3" y="56.2" font-size="20.2">Forecast:</text>
<text x="342.3" y="56.2" font-size="18.2">26 Sep 2025</text>
<text x="470.5" y="56.2" font-size="18">12UTC</text>
<g font-size="18" text-anchor="middle">
<text x="82.5" y="591.8">90S</text>
<text x="173.3" y="591.8">60S</text>
<text x="264.2" y="591.8">30S</text>
<text x="355.0" y="591.8">EQ</text>
<text x="445.8" y="591.8">30N</text>
<text x="536.7" y="591.8">60N</text>
<text x="627.5" y="591.8">90N</text>
</g><g font-size="18" text-anchor="end">
<text x="75" y="70.0">1</text>
<text x="75" y="239.2">10</text>
<text x="75" y="408.3">100</text>
<text x="75" y="577.5">1000</text>
</g>
<text transform="translate(20.8 317.2) rotate(-90)" font-size="18.2" text-anchor="middle">Pressure [hPa]</text>
<text transform="translate(756.7 317.2) rotate(-90)" font-size="18.2" text-anchor="middle">Zonal Wind [m/s]</text>
<g font-size="18">
<text x="695.5" y="93.0">60</text>
<text x="695.5" y="150.7">45</text>
<text x="695.5" y="208.5">30</text>
<text x="695.5" y="266.2">15</text>
<text x="695.5" y="324.0">0</text>
<text x="695.5" y="381.8">−15</text>
<text x="695.5" y="439.5">−30</text>
<text x="695.5" y="497.2">−45</text>
<text x="695.5" y="555.0">−60</text>
</g></g>
<rect x="661.8" y="86.40" width="25.6" height="462.00" fill="#ff2c08"/>
<rect x="661.8" y="105.65" width="25.6" height="442.75" fill="#f8431f"/>
<rect x="661.8" y="124.90" width="25.6" height="423.50" fill="#f95230"/>
<rect x="661.8" y="144.15" width="25.6" height="404.25" fill="#fa6342"/>
<rect x="661.8" y="163.40" width="25.6" height="385.00" fill="#fb7453"/>
<rect x="661.8" y="182.65" width="25.6" height="365.75" fill="#fb8564"/>
<rect x="661.8" y="201.90" width="25.6" height="346.50" fill="#fc9573"/>
<rect x="661.8" y="221.15" width="25.6" height="327.25" fill="#fca585"/>
<rect x="661.8" y="240.40" width="25.6" height="308.00" fill="#fcb595"/>
<rect x="661.8" y="259.65" width="25.6" height="288.75" fill="#fdc4a6"/>
<rect x="661.8" y="278.90" width="25.6" height="269.50" fill="#fdd3b6"/>
<rect x="661.8" y="298.15" width="25.6" height="250.25" fill="#fde3c8"/>
<rect x="661.8" y="317.40" width="25.6" height="231.00" fill="#e2f0fa"/>
<rect x="661.8" y="336.65" width="25.6" height="211.75" fill="#cddbf3"/>
<rect x="661.8" y="355.90" width="25.6" height="192.50" fill="#b8c2ec"/>
<rect x="661.8" y="375.15" width="25.6" height="173.25" fill="#a6aee6"/>
<rect x="661.8" y="394.40" width="25.6" height="154.00" fill="#939be0"/>
<rect x="661.8" y="413.65" width="25.6" height="134.75" fill="#8187da"/>
<rect x="661.8" y="432.90" width="25.6" height="115.50" fill="#7177d3"/>
<rect x="661.8" y="452.15" width="25.6" height="96.25" fill="#575bc8"/>
<rect x="661.8" y="471.40" width="25.6" height="77.00" fill="#3d3fbc"/>
<rect x="661.8" y="490.65" width="25.6" height="57.75" fill="#2c2cb1"/>
<rect x="661.8" y="509.90" width="25.6" height="38.50" fill="#1a1aa6"/>
<rect x="661.8" y="529.15" width="25.6" height="19.25" fill="#0a0a9a"/>
<path d="M661.8 86.4L674.6 63.3L687.4 86.4z" fill="#ff2c08"/>
<path d="M661.8 548.4L674.6 571.5L687.4 548.4z" fill="#0a0a9a"/>
<path d="M661.8 86.4L674.6 63.3L687.4 86.4L687.4 548.4L674.6 571.5L661.8 548.4z" fill="none" stroke="#222" stroke-width="0.9" stroke-linejoin="miter"/>
<g stroke="#222" stroke-width="0.9">
<line x1="687.4" y1="86.4" x2="691.2" y2="86.4"/>
<line x1="687.4" y1="144.1" x2="691.2" y2="144.1"/>
<line x1="687.4" y1="201.9" x2="691.2" y2="201.9"/>
<line x1="687.4" y1="259.6" x2="691.2" y2="259.6"/>
<line x1="687.4" y1="317.4" x2="691.2" y2="317.4"/>
<line x1="687.4" y1="375.1" x2="691.2" y2="375.1"/>
<line x1="687.4" y1="432.9" x2="691.2" y2="432.9"/>
<line x1="687.4" y1="490.6" x2="691.2" y2="490.6"/>
<line x1="687.4" y1="548.4" x2="691.2" y2="548.4"/>
</g>
</svg>
</body></html>
